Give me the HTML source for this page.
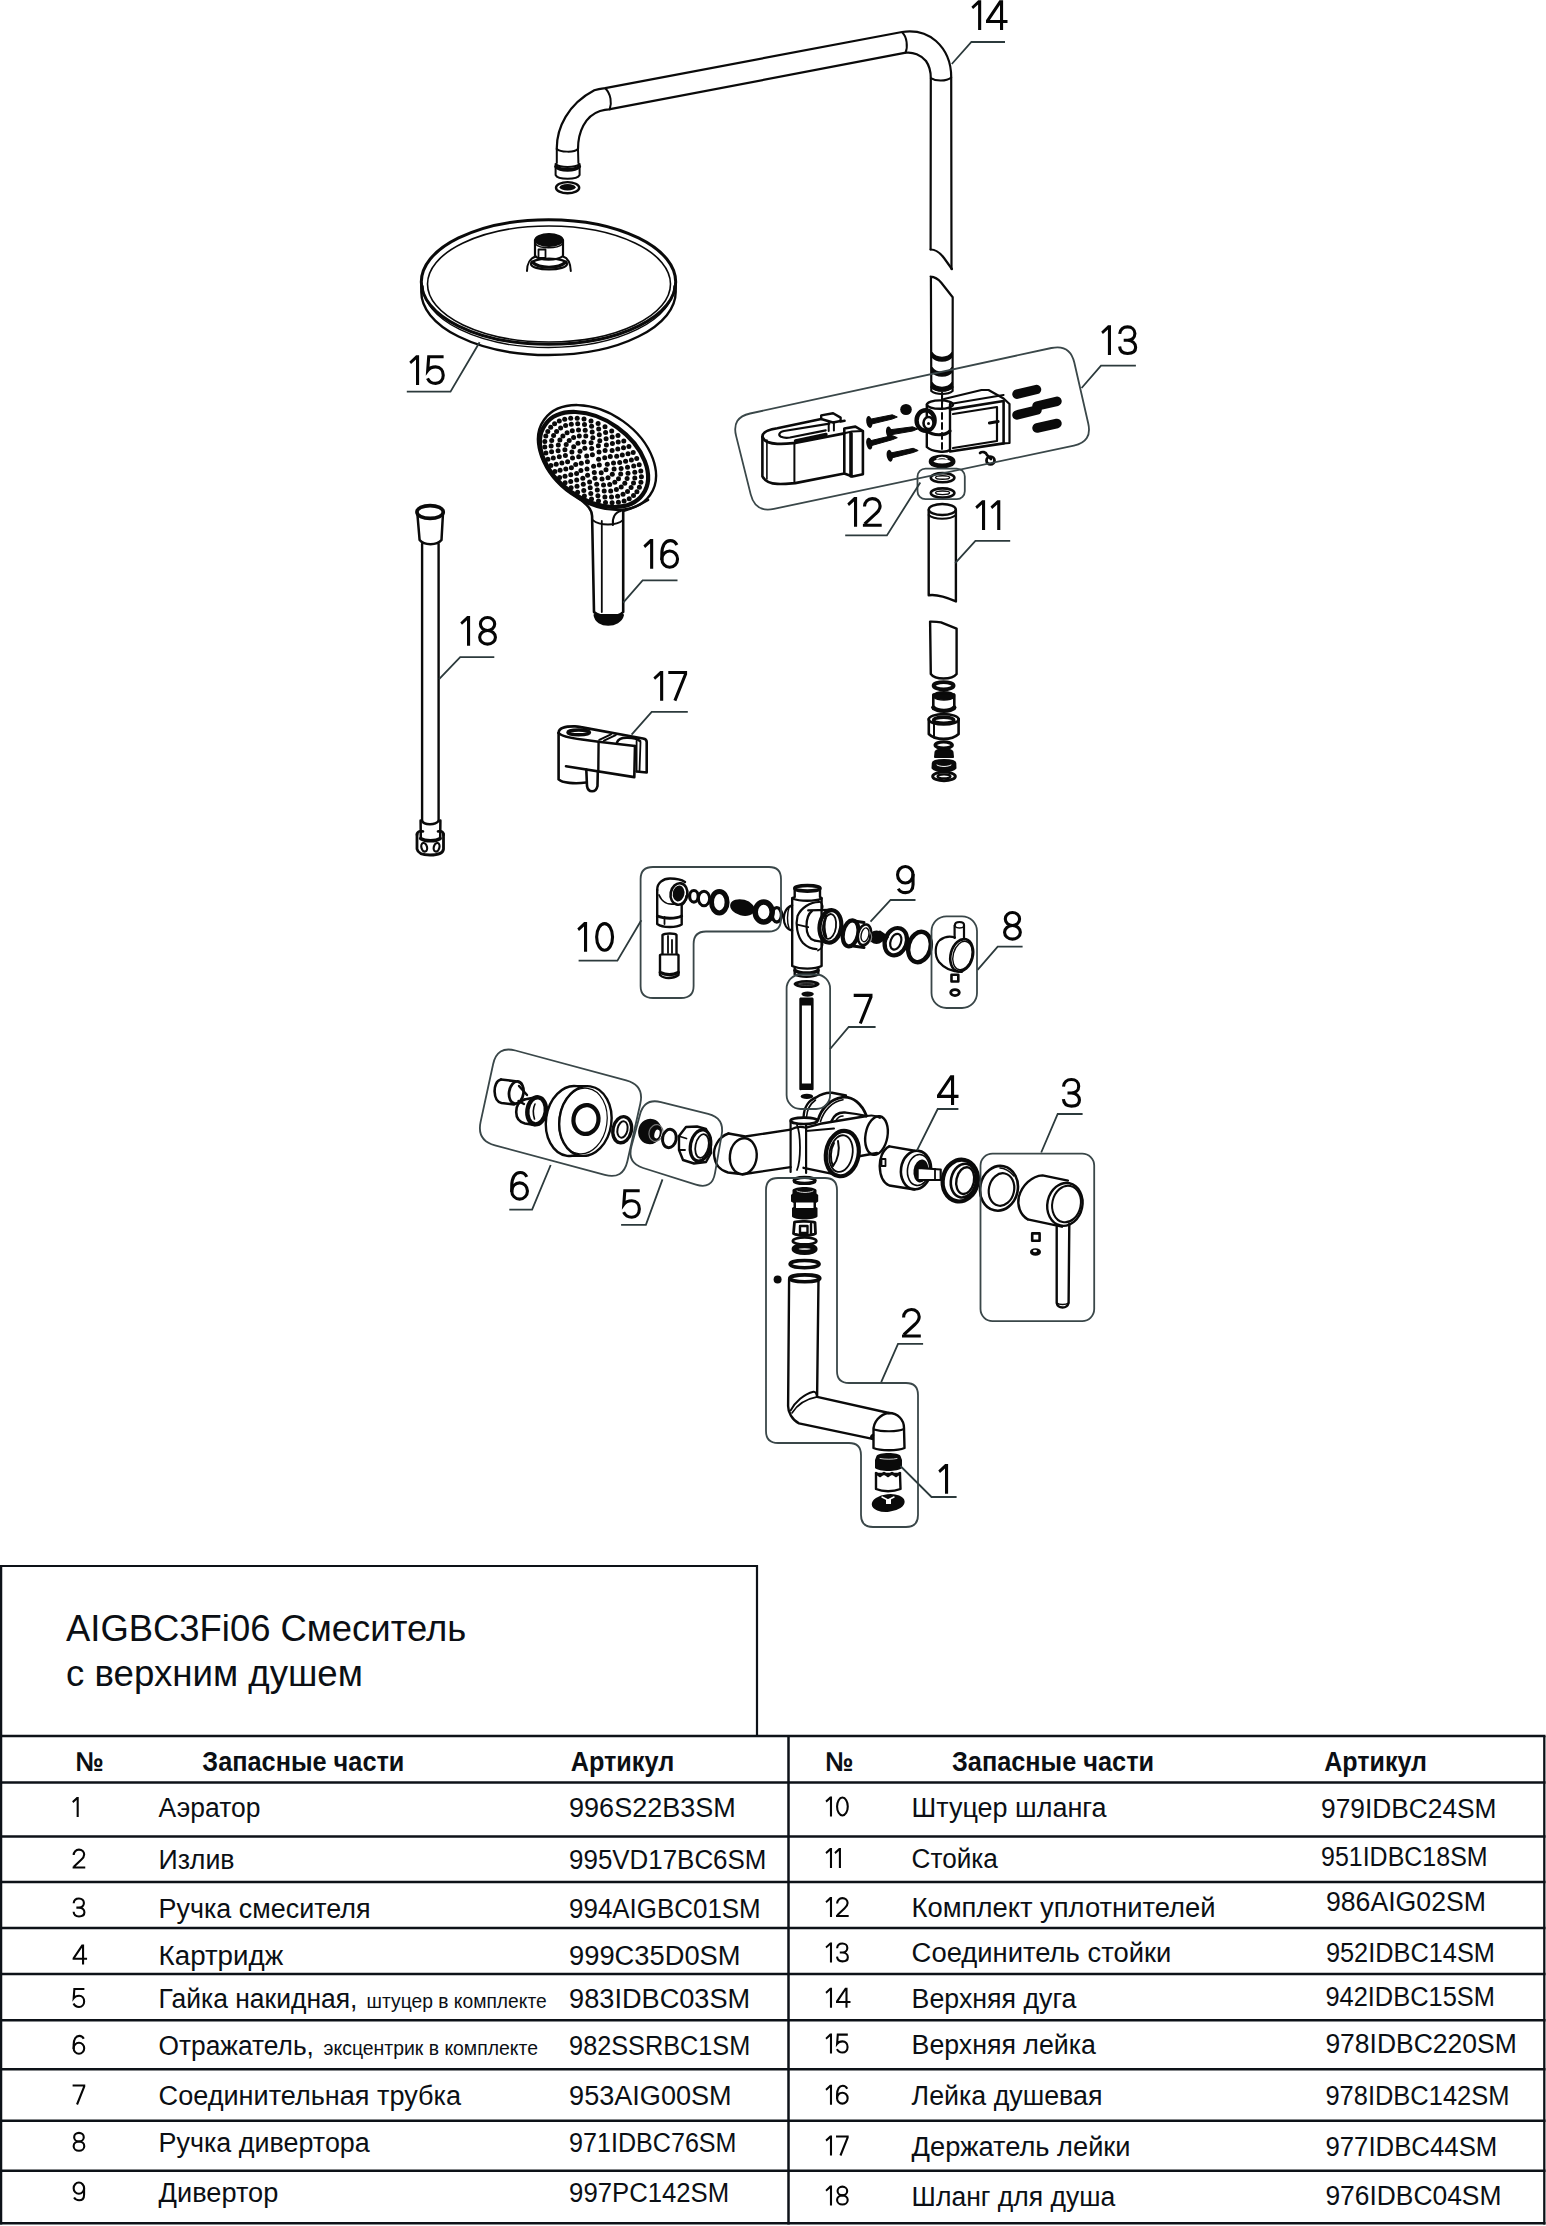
<!DOCTYPE html>
<html><head><meta charset="utf-8"><style>
html,body{margin:0;padding:0;background:#fff;}
svg{display:block;}
text{font-family:"Liberation Sans",sans-serif;}
.lbl{stroke:#fff;stroke-width:1.1px;paint-order:stroke;}
</style></head><body>
<svg width="1546" height="2226" viewBox="0 0 1546 2226">
<rect width="1546" height="2226" fill="#fff"/>
<path d="M556.8,149 C556.5,128 568,104 594.3,90.3 C598,89 602,88.5 605.2,88.1 L902,32 C912,30.5 925,31.5 936,41 C946,50 951.2,62 951.2,77 L951.5,269" fill="none" stroke="#0a0a0a" stroke-width="2.2" stroke-linejoin="round" stroke-linecap="round" />
<path d="M578,149 C578,132 585,116 600,111 C604,110 606,109.6 608.8,109.4 L905.9,52.7 C913,51.8 921,55 926,61 C929.5,66 930.8,72 930.8,78.2 L930.6,249.5" fill="none" stroke="#0a0a0a" stroke-width="2.2" stroke-linejoin="round" stroke-linecap="round" />
<path d="M605.2,88.3 C611,94 612,103 609.7,109.4" fill="none" stroke="#0a0a0a" stroke-width="2" stroke-linejoin="round" stroke-linecap="round" />
<path d="M902.3,32.6 C907,37 908,47 905.5,52.7" fill="none" stroke="#0a0a0a" stroke-width="2" stroke-linejoin="round" stroke-linecap="round" />
<path d="M930.8,78.2 C936,81.5 946,81.5 951.2,77.6" fill="none" stroke="#0a0a0a" stroke-width="2" stroke-linejoin="round" stroke-linecap="round" />
<path d="M930.6,249.5 C936,249.5 941,254 944,258 L951.9,269" fill="none" stroke="#0a0a0a" stroke-width="2.2" stroke-linejoin="round" stroke-linecap="round" />
<path d="M556.8,149 C560,152 574,153 578,149" fill="none" stroke="#0a0a0a" stroke-width="2" stroke-linejoin="round" stroke-linecap="round" />
<path d="M556.8,149 L556.8,163 M578,149 L578.4,163" fill="none" stroke="#0a0a0a" stroke-width="2" stroke-linejoin="round" stroke-linecap="round" />
<path d="M555.6,164 L555.6,175 C558,180 577,180 579.6,175 L579.6,164 C575,168 560,168 555.6,164 Z" fill="none" stroke="#0a0a0a" stroke-width="2" stroke-linejoin="round" stroke-linecap="round" />
<path d="M556,166.5 C560,171 575,171 579.3,166.5" fill="none" stroke="#0a0a0a" stroke-width="3.6" stroke-linejoin="round" stroke-linecap="round" />
<ellipse cx="567.6" cy="187.7" rx="11.6" ry="5.6" fill="none" stroke="#0a0a0a" stroke-width="2.4"/>
<ellipse cx="567.6" cy="187.3" rx="8" ry="3.2" fill="#0a0a0a" stroke="#0a0a0a" stroke-width="0"/>
<path d="M930.6,276.6 C936,277 939,280 941.3,282.7 L952.7,297.2 L952.6,391 C948,395 936,395 931.3,391 L930.9,276.6 Z" fill="none" stroke="#0a0a0a" stroke-width="2.2" stroke-linejoin="round" stroke-linecap="round" />
<path d="M931.8,352.5 C936,359.0 948,359.0 952.2,352.5 L952.2,356.5 C948,362.5 936,362.5 931.8,356.5 Z" fill="#0a0a0a" stroke="#0a0a0a" stroke-width="1.5" stroke-linejoin="round" stroke-linecap="round" />
<path d="M931.8,367.5 C936,374.0 948,374.0 952.2,367.5 L952.2,371.5 C948,377.5 936,377.5 931.8,371.5 Z" fill="#0a0a0a" stroke="#0a0a0a" stroke-width="1.5" stroke-linejoin="round" stroke-linecap="round" />
<path d="M931.8,382.5 C936,389.0 948,389.0 952.2,382.5 L952.2,386.5 C948,392.5 936,392.5 931.8,386.5 Z" fill="#0a0a0a" stroke="#0a0a0a" stroke-width="1.5" stroke-linejoin="round" stroke-linecap="round" />
<path d="M931.3,387 C936,392 948,392 952.6,387" fill="none" stroke="#0a0a0a" stroke-width="2" stroke-linejoin="round" stroke-linecap="round" />
<path d="M942.1,393 L942.1,404" fill="none" stroke="#0a0a0a" stroke-width="2" stroke-linejoin="round" stroke-linecap="round" />
<path d="M421.3,283 L421.3,292 A127.2,63 0 0 0 675.7,292 L675.7,283" fill="none" stroke="#0a0a0a" stroke-width="2.4" stroke-linejoin="round" stroke-linecap="round" />
<path d="M423,286 A125.5,61.5 0 0 0 674,286" fill="none" stroke="#0a0a0a" stroke-width="1.4" stroke-linejoin="round" stroke-linecap="round" />
<ellipse cx="548.5" cy="282" rx="127.2" ry="62.3" fill="none" stroke="#0a0a0a" stroke-width="3.0"/>
<ellipse cx="549" cy="284" rx="121.5" ry="58" fill="none" stroke="#0a0a0a" stroke-width="1.6"/>
<path d="M527,271 C527,264 530,258 535.8,256.5 M570.8,271 C570.5,264 568,258 563,256.5" fill="none" stroke="#0a0a0a" stroke-width="2" stroke-linejoin="round" stroke-linecap="round" />
<ellipse cx="549" cy="264" rx="18" ry="5.5" fill="none" stroke="#0a0a0a" stroke-width="2.2"/>
<path d="M532,262 C540,269 558,269 566,262" fill="none" stroke="#0a0a0a" stroke-width="3.2" stroke-linejoin="round" stroke-linecap="round" />
<path d="M535,240 L535,256 C540,261 557,261 563,256 L563,240" fill="none" stroke="#0a0a0a" stroke-width="2.2" stroke-linejoin="round" stroke-linecap="round" />
<ellipse cx="549" cy="240" rx="14" ry="6.2" fill="#0a0a0a" stroke="#0a0a0a" stroke-width="1.5"/>
<path d="M535.3,244 C540,249 557,249 562.7,244" fill="none" stroke="#0a0a0a" stroke-width="1.4" stroke-linejoin="round" stroke-linecap="round" />
<path d="M538.5,249.5 L545.5,249.5 L545.5,258 L538.5,258 Z" fill="none" stroke="#0a0a0a" stroke-width="1.8" stroke-linejoin="round" stroke-linecap="round" />
<path d="M762.4,437 C762,432 768,429.5 777.3,428.2 L821.2,419 M840.6,421.5 L844.5,420.8" fill="none" stroke="#0a0a0a" stroke-width="2.6" stroke-linejoin="round" stroke-linecap="round" />
<path d="M762.4,437 C764,441 770,443.5 777.3,443.8 C785,444.2 790,443.5 795.2,443 L844.3,433.3" fill="none" stroke="#0a0a0a" stroke-width="2.8" stroke-linejoin="round" stroke-linecap="round" />
<path d="M795.5,441 L826,434.5" fill="none" stroke="#0a0a0a" stroke-width="3.4" stroke-linejoin="round" stroke-linecap="round" />
<path d="M762.4,437 L762.4,476.4 C765,481 771,483.8 777.3,483.9 C785,484.2 790,483.5 795.2,483.1 L844.3,473.5 L852.5,476.4 L862.9,474.2 L862.9,431 L855.4,426.6 L844.3,428.5 L844.3,473.5" fill="none" stroke="#0a0a0a" stroke-width="2.6" stroke-linejoin="round" stroke-linecap="round" />
<path d="M766.9,440 L766.9,479" fill="none" stroke="#0a0a0a" stroke-width="1.6" stroke-linejoin="round" stroke-linecap="round" />
<path d="M794.4,443.5 L794.4,482.4" fill="none" stroke="#0a0a0a" stroke-width="2" stroke-linejoin="round" stroke-linecap="round" />
<path d="M851,433.5 L851,476" fill="none" stroke="#0a0a0a" stroke-width="3.6" stroke-linejoin="round" stroke-linecap="round" />
<path d="M844.3,433.3 L852,431.5 L862.9,431" fill="none" stroke="#0a0a0a" stroke-width="2" stroke-linejoin="round" stroke-linecap="round" />
<path d="M829.4,423.6 L784,431 C779,432 778,435 781,436.8 C784,438 787,438 790,437.5 L825.7,430.3" fill="none" stroke="#0a0a0a" stroke-width="2.2" stroke-linejoin="round" stroke-linecap="round" />
<path d="M821.2,419 L821.2,415.4 L833.1,413.2 L840.6,417.6 L840.6,421 L833,422.5 L821.2,419" fill="none" stroke="#0a0a0a" stroke-width="2.4" stroke-linejoin="round" stroke-linecap="round" />
<path d="M828.7,422.9 L828.7,431 M833.9,422 L833.9,430.5" fill="none" stroke="#0a0a0a" stroke-width="2" stroke-linejoin="round" stroke-linecap="round" />
<path d="M869.3,419.4 L892.3,414.8 L897.3,417 L892.3,419.0 L869.3,424.6 Z" fill="#0a0a0a" stroke="#0a0a0a" stroke-width="1" stroke-linejoin="round" stroke-linecap="round" />
<ellipse cx="869.3" cy="422" rx="3" ry="6" fill="#0a0a0a" stroke="#0a0a0a" stroke-width="0" transform="rotate(-10 869.3 422)"/>
<path d="M889.1,429.9 L912.7,426.8 L917.7,429 L912.7,431.0 L889.1,435.1 Z" fill="#0a0a0a" stroke="#0a0a0a" stroke-width="1" stroke-linejoin="round" stroke-linecap="round" />
<ellipse cx="889.1" cy="432.5" rx="3" ry="6" fill="#0a0a0a" stroke="#0a0a0a" stroke-width="0" transform="rotate(-10 889.1 432.5)"/>
<path d="M869.3,441.0 L892.3,435.5 L897.3,437.7 L892.3,439.7 L869.3,446.20000000000005 Z" fill="#0a0a0a" stroke="#0a0a0a" stroke-width="1" stroke-linejoin="round" stroke-linecap="round" />
<ellipse cx="869.3" cy="443.6" rx="3" ry="6" fill="#0a0a0a" stroke="#0a0a0a" stroke-width="0" transform="rotate(-10 869.3 443.6)"/>
<path d="M889.7,453.2 L913.2,448.3 L918.2,450.5 L913.2,452.5 L889.7,458.40000000000003 Z" fill="#0a0a0a" stroke="#0a0a0a" stroke-width="1" stroke-linejoin="round" stroke-linecap="round" />
<ellipse cx="889.7" cy="455.8" rx="3" ry="6" fill="#0a0a0a" stroke="#0a0a0a" stroke-width="0" transform="rotate(-10 889.7 455.8)"/>
<ellipse cx="906" cy="409.5" rx="5.8" ry="5.5" fill="#0a0a0a" stroke="#0a0a0a" stroke-width="0"/>
<path d="M926.8,404.5 L926.8,447 C932,452 946,453 950,450 L950,404.5" fill="none" stroke="#0a0a0a" stroke-width="2.4" stroke-linejoin="round" stroke-linecap="round" />
<ellipse cx="940" cy="404.6" rx="13" ry="4.2" fill="none" stroke="#0a0a0a" stroke-width="2.4"/>
<path d="M927,431 C933,436 945,436 950,431" fill="none" stroke="#0a0a0a" stroke-width="3.2" stroke-linejoin="round" stroke-linecap="round" />
<path d="M942,393 L942,449" fill="none" stroke="#0a0a0a" stroke-width="2" stroke-linejoin="round" stroke-linecap="round" stroke-dasharray="6 4"/>
<ellipse cx="925.6" cy="420.5" rx="9" ry="10.2" fill="none" stroke="#0a0a0a" stroke-width="4.4"/>
<ellipse cx="928.5" cy="423" rx="5" ry="6" fill="#fff" stroke="#0a0a0a" stroke-width="2.6"/>
<ellipse cx="928.5" cy="423.5" rx="1.5" ry="1.5" fill="#0a0a0a" stroke="#0a0a0a" stroke-width="0"/>
<path d="M950,409.6 L1003.6,401 L1003.6,443.4 L950,451.5" fill="none" stroke="#0a0a0a" stroke-width="2.6" stroke-linejoin="round" stroke-linecap="round" />
<path d="M944,399 L981.5,390 L988.5,390 L1003.6,398.5 L1009.5,404 L1009.5,443 L1003.6,443.4" fill="none" stroke="#0a0a0a" stroke-width="2.2" stroke-linejoin="round" stroke-linecap="round" />
<path d="M950,404 L1003.6,395" fill="none" stroke="#0a0a0a" stroke-width="2" stroke-linejoin="round" stroke-linecap="round" />
<path d="M953,414 L997,407 L997,441 L953,448" fill="none" stroke="#0a0a0a" stroke-width="2.2" stroke-linejoin="round" stroke-linecap="round" />
<path d="M989.5,423 L998,421.5" fill="none" stroke="#0a0a0a" stroke-width="3.2" stroke-linejoin="round" stroke-linecap="round" />
<path d="M1017,394.2 L1036.5,389.5" fill="none" stroke="#0a0a0a" stroke-width="9.5" stroke-linejoin="round" stroke-linecap="round" />
<path d="M1037,406 L1057,401.3" fill="none" stroke="#0a0a0a" stroke-width="9.5" stroke-linejoin="round" stroke-linecap="round" />
<path d="M1017,415 L1037,410" fill="none" stroke="#0a0a0a" stroke-width="9.5" stroke-linejoin="round" stroke-linecap="round" />
<path d="M1037,428 L1057,423.5" fill="none" stroke="#0a0a0a" stroke-width="9.5" stroke-linejoin="round" stroke-linecap="round" />
<ellipse cx="942.1" cy="461.4" rx="11" ry="4.6" fill="none" stroke="#0a0a0a" stroke-width="4.8"/>
<path d="M937,459 C939,457 945,457 947,459" fill="none" stroke="#fff" stroke-width="1.6" stroke-linejoin="round" stroke-linecap="round" />
<path d="M980,453 C982,451 986,452 987,455 L991,459" fill="none" stroke="#0a0a0a" stroke-width="2.6" stroke-linejoin="round" stroke-linecap="round" />
<ellipse cx="990.5" cy="460.5" rx="4" ry="3.8" fill="none" stroke="#0a0a0a" stroke-width="2.8"/>
<ellipse cx="942.6" cy="477.7" rx="11.8" ry="4.6" fill="none" stroke="#0a0a0a" stroke-width="2.6"/>
<ellipse cx="942.6" cy="477.5" rx="7" ry="1.8" fill="none" stroke="#0a0a0a" stroke-width="1.4"/>
<ellipse cx="942.6" cy="493" rx="11.8" ry="4.6" fill="none" stroke="#0a0a0a" stroke-width="2.6"/>
<ellipse cx="942.6" cy="492.8" rx="7" ry="1.8" fill="none" stroke="#0a0a0a" stroke-width="1.4"/>
<path d="M928.7,510 L928.7,595.2 C936,594 946,597 955.9,601.4 L955.9,510" fill="none" stroke="#0a0a0a" stroke-width="2.4" stroke-linejoin="round" stroke-linecap="round" />
<ellipse cx="942.3" cy="509.5" rx="13.5" ry="5.5" fill="none" stroke="#0a0a0a" stroke-width="2.4"/>
<path d="M928.7,515 C934,520 950,520 955.9,515" fill="none" stroke="#0a0a0a" stroke-width="2" stroke-linejoin="round" stroke-linecap="round" />
<path d="M930.1,621.6 C936,621.5 939,622 941,622.4 L956.6,628.6 L956.6,674 C952,680 935,680 930.8,674 Z" fill="none" stroke="#0a0a0a" stroke-width="2.4" stroke-linejoin="round" stroke-linecap="round" />
<ellipse cx="943.6" cy="685.7" rx="10" ry="3.6" fill="none" stroke="#0a0a0a" stroke-width="3.8"/>
<path d="M933.3,695 L933.3,709 M954.3,695 L954.3,709" fill="none" stroke="#0a0a0a" stroke-width="2.6" stroke-linejoin="round" stroke-linecap="round" />
<ellipse cx="943.8" cy="694.8" rx="10.5" ry="3.8" fill="#0a0a0a" stroke="#0a0a0a" stroke-width="0"/>
<path d="M933.3,697 C938,701 950,701 954.3,697 L954.3,694 L933.3,694 Z" fill="#0a0a0a" stroke="#0a0a0a" stroke-width="1.6" stroke-linejoin="round" stroke-linecap="round" />
<path d="M933.3,707.5 C938,712 950,712 954.3,707.5" fill="none" stroke="#0a0a0a" stroke-width="4.4" stroke-linejoin="round" stroke-linecap="round" />
<path d="M928.8,719 L928.8,734 C935,740.5 952,740.5 958.6,734 L958.6,719" fill="none" stroke="#0a0a0a" stroke-width="2.6" stroke-linejoin="round" stroke-linecap="round" />
<ellipse cx="943.7" cy="719.3" rx="15" ry="5.2" fill="none" stroke="#0a0a0a" stroke-width="2.6"/>
<ellipse cx="943.7" cy="720.3" rx="10.2" ry="3" fill="none" stroke="#0a0a0a" stroke-width="3.4"/>
<path d="M934,723 L934,737.5" fill="none" stroke="#0a0a0a" stroke-width="2" stroke-linejoin="round" stroke-linecap="round" />
<ellipse cx="943.7" cy="745.1" rx="8.5" ry="3.2" fill="none" stroke="#0a0a0a" stroke-width="3.4"/>
<path d="M935.5,752 C936,748.5 952,748.5 952.5,752 L953,757 L935,757 Z" fill="#0a0a0a" stroke="#0a0a0a" stroke-width="2" stroke-linejoin="round" stroke-linecap="round" />
<path d="M932.8,763 C933,759 955,759 955.3,763 L955.5,768 C952,772 936,772 932.5,768 Z" fill="#0a0a0a" stroke="#0a0a0a" stroke-width="2" stroke-linejoin="round" stroke-linecap="round" />
<path d="M937,765 C940,767 948,767 951,765" fill="none" stroke="#fff" stroke-width="1" stroke-linejoin="round" stroke-linecap="round" />
<ellipse cx="944" cy="776.4" rx="11.3" ry="4.3" fill="none" stroke="#0a0a0a" stroke-width="3"/>
<ellipse cx="944" cy="776.4" rx="6.5" ry="2" fill="none" stroke="#0a0a0a" stroke-width="2.2"/>
<ellipse cx="597" cy="457.5" rx="65" ry="44.7" fill="none" stroke="#0a0a0a" stroke-width="2.4" transform="rotate(35.5 597 457.5)"/>
<ellipse cx="594" cy="459.5" rx="60" ry="39.7" fill="none" stroke="#0a0a0a" stroke-width="4.2" transform="rotate(35.5 594 459.5)"/>
<g fill="#0a0a0a"><circle cx="599.3" cy="465.0" r="2.5"/><circle cx="593.6" cy="466.3" r="2.5"/><circle cx="587.4" cy="461.8" r="2.5"/><circle cx="586.7" cy="456.0" r="2.5"/><circle cx="592.4" cy="454.7" r="2.5"/><circle cx="598.6" cy="459.2" r="2.5"/><circle cx="606.0" cy="469.8" r="2.5"/><circle cx="601.2" cy="472.7" r="2.5"/><circle cx="594.3" cy="472.4" r="2.5"/><circle cx="587.0" cy="468.9" r="2.5"/><circle cx="581.3" cy="463.2" r="2.5"/><circle cx="578.7" cy="456.7" r="2.5"/><circle cx="580.0" cy="451.2" r="2.5"/><circle cx="584.8" cy="448.3" r="2.5"/><circle cx="591.7" cy="448.6" r="2.5"/><circle cx="599.0" cy="452.1" r="2.5"/><circle cx="604.7" cy="457.8" r="2.5"/><circle cx="607.3" cy="464.3" r="2.5"/><circle cx="612.3" cy="474.2" r="2.5"/><circle cx="608.0" cy="477.7" r="2.5"/><circle cx="602.0" cy="479.1" r="2.5"/><circle cx="594.9" cy="478.2" r="2.5"/><circle cx="587.6" cy="475.2" r="2.5"/><circle cx="580.9" cy="470.4" r="2.5"/><circle cx="575.7" cy="464.5" r="2.5"/><circle cx="572.5" cy="458.0" r="2.5"/><circle cx="571.9" cy="451.9" r="2.5"/><circle cx="573.7" cy="446.8" r="2.5"/><circle cx="578.0" cy="443.3" r="2.5"/><circle cx="584.0" cy="441.9" r="2.5"/><circle cx="591.1" cy="442.8" r="2.5"/><circle cx="598.4" cy="445.8" r="2.5"/><circle cx="605.1" cy="450.6" r="2.5"/><circle cx="610.3" cy="456.5" r="2.5"/><circle cx="613.5" cy="463.0" r="2.5"/><circle cx="614.1" cy="469.1" r="2.5"/><circle cx="618.5" cy="478.7" r="2.5"/><circle cx="614.8" cy="482.3" r="2.5"/><circle cx="609.7" cy="484.4" r="2.5"/><circle cx="603.5" cy="485.1" r="2.5"/><circle cx="596.7" cy="484.2" r="2.5"/><circle cx="589.6" cy="481.9" r="2.5"/><circle cx="582.8" cy="478.2" r="2.5"/><circle cx="576.6" cy="473.4" r="2.5"/><circle cx="571.4" cy="467.7" r="2.5"/><circle cx="567.6" cy="461.7" r="2.5"/><circle cx="565.4" cy="455.5" r="2.5"/><circle cx="564.9" cy="449.7" r="2.5"/><circle cx="566.2" cy="444.5" r="2.5"/><circle cx="569.2" cy="440.4" r="2.5"/><circle cx="573.6" cy="437.5" r="2.5"/><circle cx="579.3" cy="436.0" r="2.5"/><circle cx="585.8" cy="436.1" r="2.5"/><circle cx="592.8" cy="437.8" r="2.5"/><circle cx="599.8" cy="440.8" r="2.5"/><circle cx="606.4" cy="445.1" r="2.5"/><circle cx="612.1" cy="450.4" r="2.5"/><circle cx="616.7" cy="456.3" r="2.5"/><circle cx="619.7" cy="462.4" r="2.5"/><circle cx="621.1" cy="468.5" r="2.5"/><circle cx="620.7" cy="474.0" r="2.5"/><circle cx="624.8" cy="483.2" r="2.5"/><circle cx="621.2" cy="486.9" r="2.5"/><circle cx="616.4" cy="489.5" r="2.5"/><circle cx="610.7" cy="490.9" r="2.5"/><circle cx="604.2" cy="491.1" r="2.5"/><circle cx="597.3" cy="490.0" r="2.5"/><circle cx="590.2" cy="487.7" r="2.5"/><circle cx="583.3" cy="484.3" r="2.5"/><circle cx="576.7" cy="480.0" r="2.5"/><circle cx="570.8" cy="474.8" r="2.5"/><circle cx="565.8" cy="469.0" r="2.5"/><circle cx="561.9" cy="462.9" r="2.5"/><circle cx="559.3" cy="456.7" r="2.5"/><circle cx="558.1" cy="450.7" r="2.5"/><circle cx="558.3" cy="445.0" r="2.5"/><circle cx="559.9" cy="440.0" r="2.5"/><circle cx="562.9" cy="435.9" r="2.5"/><circle cx="567.1" cy="432.7" r="2.5"/><circle cx="572.3" cy="430.7" r="2.5"/><circle cx="578.5" cy="429.9" r="2.5"/><circle cx="585.2" cy="430.3" r="2.5"/><circle cx="592.2" cy="432.0" r="2.5"/><circle cx="599.3" cy="434.8" r="2.5"/><circle cx="606.1" cy="438.7" r="2.5"/><circle cx="612.4" cy="443.5" r="2.5"/><circle cx="617.8" cy="449.0" r="2.5"/><circle cx="622.3" cy="455.0" r="2.5"/><circle cx="625.6" cy="461.2" r="2.5"/><circle cx="627.5" cy="467.3" r="2.5"/><circle cx="628.0" cy="473.2" r="2.5"/><circle cx="627.1" cy="478.6" r="2.5"/><circle cx="631.1" cy="487.6" r="2.5"/><circle cx="627.5" cy="491.4" r="2.5"/><circle cx="623.0" cy="494.3" r="2.5"/><circle cx="617.6" cy="496.2" r="2.5"/><circle cx="611.5" cy="497.1" r="2.5"/><circle cx="604.9" cy="497.0" r="2.5"/><circle cx="597.9" cy="495.8" r="2.5"/><circle cx="590.8" cy="493.5" r="2.5"/><circle cx="583.8" cy="490.4" r="2.5"/><circle cx="577.0" cy="486.3" r="2.5"/><circle cx="570.7" cy="481.6" r="2.5"/><circle cx="565.0" cy="476.2" r="2.5"/><circle cx="560.1" cy="470.3" r="2.5"/><circle cx="556.2" cy="464.2" r="2.5"/><circle cx="553.3" cy="458.0" r="2.5"/><circle cx="551.6" cy="451.8" r="2.5"/><circle cx="551.1" cy="445.9" r="2.5"/><circle cx="551.7" cy="440.5" r="2.5"/><circle cx="553.6" cy="435.5" r="2.5"/><circle cx="556.6" cy="431.4" r="2.5"/><circle cx="560.6" cy="428.0" r="2.5"/><circle cx="565.6" cy="425.6" r="2.5"/><circle cx="571.3" cy="424.2" r="2.5"/><circle cx="577.7" cy="423.8" r="2.5"/><circle cx="584.5" cy="424.5" r="2.5"/><circle cx="591.6" cy="426.2" r="2.5"/><circle cx="598.7" cy="428.9" r="2.5"/><circle cx="605.6" cy="432.5" r="2.5"/><circle cx="612.2" cy="437.0" r="2.5"/><circle cx="618.2" cy="442.1" r="2.5"/><circle cx="623.5" cy="447.7" r="2.5"/><circle cx="628.0" cy="453.7" r="2.5"/><circle cx="631.4" cy="459.9" r="2.5"/><circle cx="633.7" cy="466.1" r="2.5"/><circle cx="634.8" cy="472.2" r="2.5"/><circle cx="634.8" cy="477.9" r="2.5"/><circle cx="633.5" cy="483.1" r="2.5"/><circle cx="636.9" cy="491.8" r="2.5"/><circle cx="633.5" cy="495.6" r="2.5"/><circle cx="629.2" cy="498.7" r="2.5"/><circle cx="624.1" cy="500.9" r="2.5"/><circle cx="618.4" cy="502.3" r="2.5"/><circle cx="612.1" cy="502.8" r="2.5"/><circle cx="605.5" cy="502.4" r="2.5"/><circle cx="598.5" cy="501.1" r="2.5"/><circle cx="591.5" cy="499.0" r="2.5"/><circle cx="584.4" cy="496.0" r="2.5"/><circle cx="577.6" cy="492.2" r="2.5"/><circle cx="571.1" cy="487.8" r="2.5"/><circle cx="565.1" cy="482.8" r="2.5"/><circle cx="559.6" cy="477.4" r="2.5"/><circle cx="554.9" cy="471.5" r="2.5"/><circle cx="550.9" cy="465.5" r="2.5"/><circle cx="547.9" cy="459.3" r="2.5"/><circle cx="545.9" cy="453.1" r="2.5"/><circle cx="544.8" cy="447.1" r="2.5"/><circle cx="544.8" cy="441.4" r="2.5"/><circle cx="545.8" cy="436.1" r="2.5"/><circle cx="547.8" cy="431.4" r="2.5"/><circle cx="550.7" cy="427.2" r="2.5"/><circle cx="554.6" cy="423.8" r="2.5"/><circle cx="559.3" cy="421.1" r="2.5"/><circle cx="564.7" cy="419.3" r="2.5"/><circle cx="570.7" cy="418.3" r="2.5"/><circle cx="577.2" cy="418.3" r="2.5"/><circle cx="584.0" cy="419.1" r="2.5"/><circle cx="591.0" cy="420.9" r="2.5"/><circle cx="598.1" cy="423.4" r="2.5"/><circle cx="605.0" cy="426.8" r="2.5"/><circle cx="611.7" cy="430.9" r="2.5"/><circle cx="618.0" cy="435.6" r="2.5"/><circle cx="623.8" cy="440.9" r="2.5"/><circle cx="628.9" cy="446.5" r="2.5"/><circle cx="633.2" cy="452.5" r="2.5"/><circle cx="636.7" cy="458.6" r="2.5"/><circle cx="639.2" cy="464.8" r="2.5"/><circle cx="640.8" cy="470.9" r="2.5"/><circle cx="641.4" cy="476.8" r="2.5"/><circle cx="640.9" cy="482.3" r="2.5"/><circle cx="639.4" cy="487.3" r="2.5"/></g>
<path d="M577,497 C588,505 592,510 592.1,516 L594,612 C600,618 618,618 623.2,612 L623.2,511 C630,509 640,505 648,500" fill="none" stroke="#0a0a0a" stroke-width="2.6" stroke-linejoin="round" stroke-linecap="round" />
<path d="M601.8,521 L601.8,612" fill="none" stroke="#0a0a0a" stroke-width="1.8" stroke-linejoin="round" stroke-linecap="round" />
<path d="M592.5,520 C600,526 616,526 623.2,520" fill="none" stroke="#0a0a0a" stroke-width="1.8" stroke-linejoin="round" stroke-linecap="round" />
<path d="M613,525 C612,518 615,512 621,511" fill="none" stroke="#0a0a0a" stroke-width="2" stroke-linejoin="round" stroke-linecap="round" />
<path d="M594.5,615 C596,628 620,628 623,615 Z" fill="#0a0a0a" stroke="#0a0a0a" stroke-width="2" stroke-linejoin="round" stroke-linecap="round" />
<ellipse cx="430.1" cy="512" rx="13.2" ry="6.4" fill="none" stroke="#0a0a0a" stroke-width="3.6"/>
<path d="M417.3,513 L419.6,540 C424,545.5 437,545.5 441.5,540 L443,513" fill="none" stroke="#0a0a0a" stroke-width="2.5" stroke-linejoin="round" stroke-linecap="round" />
<path d="M422.1,544 L422.1,820.5 M438.6,544 L438.6,820.5" fill="none" stroke="#0a0a0a" stroke-width="2.4" stroke-linejoin="round" stroke-linecap="round" />
<path d="M420.6,820.5 L420.8,837.5 M440.4,820.5 L440.2,837.5" fill="none" stroke="#0a0a0a" stroke-width="2.5" stroke-linejoin="round" stroke-linecap="round" />
<path d="M422.1,821 C424,825 435,825.5 438.6,821" fill="none" stroke="#0a0a0a" stroke-width="2.6" stroke-linejoin="round" stroke-linecap="round" />
<path d="M417,835 C417,831 421,830.5 423,831.5 M443.5,835 C443.5,831 440,830.5 438,831.5" fill="none" stroke="#0a0a0a" stroke-width="2.6" stroke-linejoin="round" stroke-linecap="round" />
<path d="M417,834 L417,849 C418,854 425,855 430,855 C436,855 443,854 443.5,849 L443.5,834" fill="none" stroke="#0a0a0a" stroke-width="2.8" stroke-linejoin="round" stroke-linecap="round" />
<path d="M420.6,838.5 C425,841.5 436,841.5 440.2,838.5" fill="none" stroke="#0a0a0a" stroke-width="3.4" stroke-linejoin="round" stroke-linecap="round" />
<ellipse cx="424.2" cy="847.3" rx="2.8" ry="4.4" fill="none" stroke="#0a0a0a" stroke-width="2.2" transform="rotate(-15 424.2 847.3)"/>
<ellipse cx="436.6" cy="847.3" rx="2.8" ry="4.4" fill="none" stroke="#0a0a0a" stroke-width="2.2" transform="rotate(15 436.6 847.3)"/>
<path d="M558.6,733 C558.5,728 565,726.2 575,726.4 C578,726.5 580,727 582.3,727.4 L643,738.5 C646,739 646.7,740 646.7,742 L646.7,772.5 L636.6,771.5" fill="none" stroke="#0a0a0a" stroke-width="2.6" stroke-linejoin="round" stroke-linecap="round" />
<path d="M558.6,733 L558.6,779.4 C562,783 575,784 586.1,782.5" fill="none" stroke="#0a0a0a" stroke-width="2.6" stroke-linejoin="round" stroke-linecap="round" />
<path d="M558.6,733 C561,736 570,738 582,739.5 L598.6,741.8 L635,746" fill="none" stroke="#0a0a0a" stroke-width="2.6" stroke-linejoin="round" stroke-linecap="round" />
<ellipse cx="578.7" cy="732.4" rx="10.8" ry="2.4" fill="none" stroke="#0a0a0a" stroke-width="3.4"/>
<path d="M598.6,741.8 L598.3,770.9" fill="none" stroke="#0a0a0a" stroke-width="2.4" stroke-linejoin="round" stroke-linecap="round" />
<path d="M635,746 L634.3,777.1 L566,766.2" fill="none" stroke="#0a0a0a" stroke-width="2.6" stroke-linejoin="round" stroke-linecap="round" />
<path d="M636.6,741 L636.6,771.5 M640.5,742 L639.5,771" fill="none" stroke="#0a0a0a" stroke-width="1.8" stroke-linejoin="round" stroke-linecap="round" />
<path d="M599.3,739.8 L611,734.4 M604,740.6 L615.7,735.2" fill="none" stroke="#0a0a0a" stroke-width="2" stroke-linejoin="round" stroke-linecap="round" />
<path d="M617,742.5 C618,739 622,737.5 628,737.8 C634,738 638,739.5 640,741" fill="none" stroke="#0a0a0a" stroke-width="2.6" stroke-linejoin="round" stroke-linecap="round" />
<path d="M586.3,769.5 L587,786 C588,793 596,793 597.5,786 L597.8,771.5" fill="none" stroke="#0a0a0a" stroke-width="2.6" stroke-linejoin="round" stroke-linecap="round" />
<path d="M657.2,890 L657.2,924 C663,928 676,928 681.7,924.5 L681.7,905 C684,903 686,900 686.5,896" fill="none" stroke="#0a0a0a" stroke-width="2.4" stroke-linejoin="round" stroke-linecap="round" />
<path d="M657.2,890 C657,883 663,878.5 670,878.5 C676,878.5 682,880 685,882" fill="none" stroke="#0a0a0a" stroke-width="2.4" stroke-linejoin="round" stroke-linecap="round" />
<ellipse cx="679" cy="894" rx="8.4" ry="10.8" fill="none" stroke="#0a0a0a" stroke-width="2.6" transform="rotate(10 679 894)"/>
<ellipse cx="678.6" cy="893.5" rx="5.8" ry="8" fill="#0a0a0a" stroke="#0a0a0a" stroke-width="0" transform="rotate(10 678.6 893.5)"/>
<path d="M659,895 C662,902 668,905 674,904" fill="none" stroke="#0a0a0a" stroke-width="1.8" stroke-linejoin="round" stroke-linecap="round" />
<path d="M657.4,916 C664,919 676,919 681.6,916" fill="none" stroke="#0a0a0a" stroke-width="3" stroke-linejoin="round" stroke-linecap="round" />
<path d="M664.5,917 L664.5,924" fill="none" stroke="#0a0a0a" stroke-width="1.8" stroke-linejoin="round" stroke-linecap="round" />
<path d="M662.5,935 C665,933 675,933 676.5,935 L676.5,954 L678.5,955 L678.5,975 C673,979 664,979 660,975 L660,955 L662.5,954 Z" fill="none" stroke="#0a0a0a" stroke-width="2.4" stroke-linejoin="round" stroke-linecap="round" />
<path d="M662.5,954.5 L676.5,954.5" fill="none" stroke="#0a0a0a" stroke-width="2" stroke-linejoin="round" stroke-linecap="round" />
<path d="M660.2,972.5 C666,975 673,975 678.3,972.5" fill="none" stroke="#0a0a0a" stroke-width="3.2" stroke-linejoin="round" stroke-linecap="round" />
<path d="M668,936 L668,953 M672,940 L672,953" fill="none" stroke="#0a0a0a" stroke-width="1.8" stroke-linejoin="round" stroke-linecap="round" />
<ellipse cx="693.9" cy="896.3" rx="4.3" ry="5.8" fill="none" stroke="#0a0a0a" stroke-width="3.2"/>
<ellipse cx="704" cy="898.5" rx="5.6" ry="7.3" fill="none" stroke="#0a0a0a" stroke-width="3"/>
<ellipse cx="719.3" cy="902.2" rx="7.8" ry="10.8" fill="none" stroke="#0a0a0a" stroke-width="5"/>
<ellipse cx="742.4" cy="907.6" rx="12.5" ry="8" fill="#0a0a0a" stroke="#0a0a0a" stroke-width="0" transform="rotate(15 742.4 907.6)"/>
<ellipse cx="763.7" cy="912" rx="8.5" ry="10" fill="none" stroke="#0a0a0a" stroke-width="5.5"/>
<ellipse cx="776.8" cy="914.8" rx="4.7" ry="7.2" fill="none" stroke="#0a0a0a" stroke-width="3.4"/>
<path d="M794.7,889 L794.7,897 L792.2,898 L792.2,966 C800,969.5 815,969.5 821.6,966 L821.6,898 L820,897 L820,889" fill="none" stroke="#0a0a0a" stroke-width="2.4" stroke-linejoin="round" stroke-linecap="round" />
<ellipse cx="807.4" cy="888.3" rx="12.6" ry="2.8" fill="none" stroke="#0a0a0a" stroke-width="3.6"/>
<path d="M792.3,898.5 C800,901.5 815,901.5 821.5,898.5" fill="none" stroke="#0a0a0a" stroke-width="2.4" stroke-linejoin="round" stroke-linecap="round" />
<path d="M794.7,968 L794.7,974.5 C800,977.5 813,977.5 818.3,974.5 L818.3,968" fill="none" stroke="#0a0a0a" stroke-width="2.4" stroke-linejoin="round" stroke-linecap="round" />
<path d="M795,970.5 C800,974 813,974 818,970.5" fill="none" stroke="#0a0a0a" stroke-width="3.6" stroke-linejoin="round" stroke-linecap="round" />
<path d="M792.2,905.4 C786.5,907 783.8,913 783.8,918 C783.8,924 786.5,929.5 792.2,930.6" fill="none" stroke="#0a0a0a" stroke-width="2.2" stroke-linejoin="round" stroke-linecap="round" />
<path d="M789,908 C787,913 787,923 789,928" fill="none" stroke="#0a0a0a" stroke-width="1.4" stroke-linejoin="round" stroke-linecap="round" />
<path d="M819,902 C810,902 801,908 797.5,916 C795.5,924 797,936 803,943 C807,947 812,949 816.6,949.1" fill="none" stroke="#0a0a0a" stroke-width="2.2" stroke-linejoin="round" stroke-linecap="round" />
<path d="M797.2,924.7 L808.2,927.2" fill="none" stroke="#0a0a0a" stroke-width="1.8" stroke-linejoin="round" stroke-linecap="round" />
<path d="M818,900.5 C821,902 823,905 822.5,908 M818,950.5 C821,949 823,946 822.5,943" fill="none" stroke="#0a0a0a" stroke-width="1.8" stroke-linejoin="round" stroke-linecap="round" />
<path d="M808.2,910.4 L829,909.8 M815,940.7 L830,943" fill="none" stroke="#0a0a0a" stroke-width="2.2" stroke-linejoin="round" stroke-linecap="round" />
<path d="M812,911 C808,914 806.5,920 806.5,926 C806.5,933 809,939 814.5,940.5" fill="none" stroke="#0a0a0a" stroke-width="2.2" stroke-linejoin="round" stroke-linecap="round" />
<ellipse cx="830.4" cy="926.4" rx="10.8" ry="16.3" fill="#fff" stroke="#0a0a0a" stroke-width="4.2" transform="rotate(8 830.4 926.4)"/>
<ellipse cx="829.5" cy="926.4" rx="6.5" ry="12.5" fill="none" stroke="#0a0a0a" stroke-width="1.8" transform="rotate(8 829.5 926.4)"/>
<path d="M826,916 C824,922 824,931 826,937" fill="none" stroke="#0a0a0a" stroke-width="2.6" stroke-linejoin="round" stroke-linecap="round" />
<ellipse cx="850.6" cy="933.4" rx="7.6" ry="13.2" fill="none" stroke="#0a0a0a" stroke-width="4.2" transform="rotate(12 850.6 933.4)"/>
<path d="M851,920.5 L864,922.5 M853,946 L864,947.5" fill="none" stroke="#0a0a0a" stroke-width="3" stroke-linejoin="round" stroke-linecap="round" />
<ellipse cx="864.5" cy="934.8" rx="6.5" ry="10.5" fill="#fff" stroke="#0a0a0a" stroke-width="2.6" transform="rotate(12 864.5 934.8)"/>
<ellipse cx="865" cy="934.8" rx="3.8" ry="7" fill="none" stroke="#0a0a0a" stroke-width="1.4" transform="rotate(12 865 934.8)"/>
<ellipse cx="876.5" cy="937.3" rx="7.5" ry="6.7" fill="#0a0a0a" stroke="#0a0a0a" stroke-width="0"/>
<path d="M870,932 C872,935 872,939 870,942" fill="none" stroke="#888" stroke-width="1.2" stroke-linejoin="round" stroke-linecap="round" />
<path d="M880,931.5 L888,937 L884,943 Z" fill="#0a0a0a" stroke="#0a0a0a" stroke-width="2" stroke-linejoin="round" stroke-linecap="round" />
<ellipse cx="895.8" cy="941.7" rx="10.8" ry="14" fill="none" stroke="#0a0a0a" stroke-width="4.2" transform="rotate(20 895.8 941.7)"/>
<ellipse cx="895.8" cy="941.7" rx="5.2" ry="8.2" fill="none" stroke="#0a0a0a" stroke-width="2.2" transform="rotate(20 895.8 941.7)"/>
<ellipse cx="919.5" cy="947" rx="11" ry="15.4" fill="none" stroke="#0a0a0a" stroke-width="4.4" transform="rotate(15 919.5 947)"/>
<path d="M955,925 C955,921 964,921 964,925 L964,940" fill="none" stroke="#0a0a0a" stroke-width="2.2" stroke-linejoin="round" stroke-linecap="round" />
<path d="M954.6,925.5 L954.6,938" fill="none" stroke="#0a0a0a" stroke-width="2.2" stroke-linejoin="round" stroke-linecap="round" />
<path d="M955,926.5 C957,928.5 962,928.5 964,926.5" fill="none" stroke="#0a0a0a" stroke-width="1.6" stroke-linejoin="round" stroke-linecap="round" />
<path d="M962,971.8 C952,972 944,968 939,962 C934,955 935,944 940,940 C944,937 950,936 955,937.5" fill="none" stroke="#0a0a0a" stroke-width="2.2" stroke-linejoin="round" stroke-linecap="round" />
<ellipse cx="961.7" cy="955.3" rx="11" ry="16.5" fill="#fff" stroke="#0a0a0a" stroke-width="2.6" transform="rotate(15 961.7 955.3)"/>
<ellipse cx="962.5" cy="955.5" rx="9.3" ry="14.5" fill="none" stroke="#0a0a0a" stroke-width="1.4" transform="rotate(15 962.5 955.5)"/>
<path d="M951.5,974.7 h6.8 v6.8 h-6.8 Z" fill="none" stroke="#0a0a0a" stroke-width="2.6" stroke-linejoin="round" stroke-linecap="round" />
<ellipse cx="955" cy="992.6" rx="4.3" ry="3" fill="none" stroke="#0a0a0a" stroke-width="2.8"/>
<ellipse cx="806.6" cy="984.1" rx="13" ry="4" fill="#0a0a0a" stroke="#0a0a0a" stroke-width="0"/>
<ellipse cx="806.6" cy="984.1" rx="8" ry="1.2" fill="none" stroke="#666" stroke-width="0.8"/>
<ellipse cx="807.6" cy="994.1" rx="6.2" ry="2.6" fill="#0a0a0a" stroke="#0a0a0a" stroke-width="0"/>
<path d="M800.6,999 L800.6,1089 M812.3,999 L812.3,1089" fill="none" stroke="#0a0a0a" stroke-width="2.6" stroke-linejoin="round" stroke-linecap="round" />
<path d="M800.3,997.5 h12.3 v8 h-12.3 Z" fill="#0a0a0a" stroke="#0a0a0a" stroke-width="0" stroke-linejoin="round" stroke-linecap="round" />
<path d="M800.3,1083.5 h12.3 v6.5 h-12.3 Z" fill="#0a0a0a" stroke="#0a0a0a" stroke-width="0" stroke-linejoin="round" stroke-linecap="round" />
<ellipse cx="806.9" cy="1096.4" rx="6.2" ry="2.6" fill="#0a0a0a" stroke="#0a0a0a" stroke-width="0"/>
<path d="M501,1079.5 C496,1080.5 494.5,1087 494.6,1091.5 C494.8,1097 497,1102 501.5,1103 L514,1104.5" fill="none" stroke="#0a0a0a" stroke-width="2.6" stroke-linejoin="round" stroke-linecap="round" />
<path d="M501,1079.5 L515.5,1081.2" fill="none" stroke="#0a0a0a" stroke-width="2.6" stroke-linejoin="round" stroke-linecap="round" />
<ellipse cx="516.3" cy="1092.6" rx="7.2" ry="11.2" fill="#fff" stroke="#0a0a0a" stroke-width="2.8" transform="rotate(8 516.3 1092.6)"/>
<path d="M519,1086 L527,1095 M518.5,1101 L524,1104" fill="none" stroke="#0a0a0a" stroke-width="2.4" stroke-linejoin="round" stroke-linecap="round" />
<path d="M524.5,1099.5 C518.5,1101.5 516.2,1107 516.2,1112 C516.2,1118 519,1122 525,1123.5 L535,1125" fill="none" stroke="#0a0a0a" stroke-width="2.6" stroke-linejoin="round" stroke-linecap="round" />
<path d="M524.5,1099.5 L537,1097" fill="none" stroke="#0a0a0a" stroke-width="2.4" stroke-linejoin="round" stroke-linecap="round" />
<ellipse cx="536.6" cy="1110.8" rx="9.2" ry="13.6" fill="#fff" stroke="#0a0a0a" stroke-width="4.4" transform="rotate(8 536.6 1110.8)"/>
<path d="M535,1104 C533,1108 533,1114 534.5,1119" fill="none" stroke="#0a0a0a" stroke-width="1.6" stroke-linejoin="round" stroke-linecap="round" />
<ellipse cx="572" cy="1121" rx="26" ry="35.2" fill="none" stroke="#0a0a0a" stroke-width="2.4" transform="rotate(8 572 1121)"/>
<ellipse cx="585.4" cy="1121" rx="26" ry="35" fill="#fff" stroke="#0a0a0a" stroke-width="2.4" transform="rotate(8 585.4 1121)"/>
<ellipse cx="583" cy="1121" rx="24" ry="33" fill="none" stroke="#0a0a0a" stroke-width="1.2" transform="rotate(8 583 1121)"/>
<path d="M572,1086 L586,1086 M572,1156 L586,1156" fill="none" stroke="#0a0a0a" stroke-width="2.2" stroke-linejoin="round" stroke-linecap="round" />
<ellipse cx="586" cy="1119.5" rx="12.5" ry="14.5" fill="none" stroke="#0a0a0a" stroke-width="4.2" transform="rotate(8 586 1119.5)"/>
<ellipse cx="622.2" cy="1129.7" rx="9.2" ry="13.2" fill="none" stroke="#0a0a0a" stroke-width="3.4" transform="rotate(12 622.2 1129.7)"/>
<ellipse cx="622.5" cy="1129.5" rx="5" ry="8.3" fill="none" stroke="#0a0a0a" stroke-width="2" transform="rotate(12 622.5 1129.5)"/>
<ellipse cx="650" cy="1131.5" rx="11.8" ry="12.8" fill="#0a0a0a" stroke="#0a0a0a" stroke-width="0" transform="rotate(15 650 1131.5)"/>
<ellipse cx="656" cy="1133" rx="7" ry="8.5" fill="none" stroke="#777" stroke-width="1.2" transform="rotate(15 656 1133)"/>
<ellipse cx="657" cy="1134" rx="2.5" ry="4.5" fill="#fff" stroke="#0a0a0a" stroke-width="0" transform="rotate(15 657 1134)"/>
<ellipse cx="669.4" cy="1138.5" rx="6.8" ry="9.2" fill="none" stroke="#0a0a0a" stroke-width="3" transform="rotate(10 669.4 1138.5)"/>
<path d="M686,1127 L697,1126.5 L706,1129 L710.5,1138 L711,1153 L706,1162 L694,1163.5 L683,1160 L679,1150 L679,1136 Z" fill="none" stroke="#0a0a0a" stroke-width="2.4" stroke-linejoin="round" stroke-linecap="round" />
<path d="M680,1136.5 L686.5,1138.5 M679.5,1150 L685,1150" fill="none" stroke="#0a0a0a" stroke-width="1.8" stroke-linejoin="round" stroke-linecap="round" />
<ellipse cx="700.5" cy="1145.4" rx="10" ry="15.8" fill="#fff" stroke="#0a0a0a" stroke-width="3.2" transform="rotate(12 700.5 1145.4)"/>
<ellipse cx="702" cy="1146" rx="6.5" ry="12" fill="none" stroke="#0a0a0a" stroke-width="1.8" transform="rotate(12 702 1146)"/>
<path d="M803.6,1117 C804,1107 809,1100 816,1097.5 C822,1093.5 828,1092.5 832,1092.8 L846,1095.5" fill="none" stroke="#0a0a0a" stroke-width="2.4" stroke-linejoin="round" stroke-linecap="round" />
<path d="M806.5,1117 C807,1110 810,1104 815.5,1100" fill="none" stroke="#0a0a0a" stroke-width="1.6" stroke-linejoin="round" stroke-linecap="round" />
<path d="M818,1120 C821,1109 830,1099 842,1097.3 C853,1096 862,1104 866.5,1116" fill="none" stroke="#0a0a0a" stroke-width="2.8" stroke-linejoin="round" stroke-linecap="round" />
<path d="M820.5,1121.5 C823.5,1111 832,1101.5 843,1099.8" fill="none" stroke="#0a0a0a" stroke-width="1.6" stroke-linejoin="round" stroke-linecap="round" />
<path d="M831.5,1121 C834,1115 838,1112 845,1112.5 C850,1113 856,1113.5 866,1116" fill="none" stroke="#0a0a0a" stroke-width="2.4" stroke-linejoin="round" stroke-linecap="round" />
<path d="M836,1120.5 C838,1117 840,1116 843,1116" fill="none" stroke="#0a0a0a" stroke-width="1.6" stroke-linejoin="round" stroke-linecap="round" />
<path d="M728.5,1133.5 C718,1137 713,1148 714.2,1156 C715,1164 719,1170 728,1172.5 L742.7,1174.3" fill="none" stroke="#0a0a0a" stroke-width="2.4" stroke-linejoin="round" stroke-linecap="round" />
<ellipse cx="743.3" cy="1156.2" rx="13.4" ry="18" fill="#fff" stroke="#0a0a0a" stroke-width="2.4" transform="rotate(6 743.3 1156.2)"/>
<path d="M728.5,1133.5 L745.3,1136.5 L790.6,1129.6" fill="none" stroke="#0a0a0a" stroke-width="2.4" stroke-linejoin="round" stroke-linecap="round" />
<path d="M742.7,1174.3 L790.6,1167.1" fill="none" stroke="#0a0a0a" stroke-width="2.4" stroke-linejoin="round" stroke-linecap="round" />
<path d="M790.6,1122 L790.6,1172 M806.1,1125 L806.1,1173" fill="none" stroke="#0a0a0a" stroke-width="2.2" stroke-linejoin="round" stroke-linecap="round" />
<ellipse cx="804" cy="1120.8" rx="13.5" ry="3.2" fill="none" stroke="#0a0a0a" stroke-width="2.6"/>
<path d="M797,1125 C801,1135 801,1160 797,1170" fill="none" stroke="#0a0a0a" stroke-width="1.8" stroke-linejoin="round" stroke-linecap="round" />
<path d="M790.6,1129.6 C795,1127 800,1126 806.1,1127.7" fill="none" stroke="#0a0a0a" stroke-width="2" stroke-linejoin="round" stroke-linecap="round" />
<path d="M806.1,1127.7 L820.3,1123.8 L866.9,1116" fill="none" stroke="#0a0a0a" stroke-width="2.4" stroke-linejoin="round" stroke-linecap="round" />
<path d="M803.5,1167.8 L841,1175.6" fill="none" stroke="#0a0a0a" stroke-width="2.4" stroke-linejoin="round" stroke-linecap="round" />
<path d="M806,1131 L834,1128.5" fill="none" stroke="#0a0a0a" stroke-width="2" stroke-linejoin="round" stroke-linecap="round" />
<ellipse cx="876.5" cy="1135.5" rx="11" ry="19.5" fill="none" stroke="#0a0a0a" stroke-width="2.4" transform="rotate(10 876.5 1135.5)"/>
<path d="M866.9,1116 C872,1115 877,1116 880,1118" fill="none" stroke="#0a0a0a" stroke-width="2" stroke-linejoin="round" stroke-linecap="round" />
<path d="M859,1156.2 L877,1153" fill="none" stroke="#0a0a0a" stroke-width="2.4" stroke-linejoin="round" stroke-linecap="round" />
<ellipse cx="842.3" cy="1153.6" rx="16.3" ry="22.8" fill="#fff" stroke="#0a0a0a" stroke-width="4.2" transform="rotate(10 842.3 1153.6)"/>
<ellipse cx="841" cy="1153.6" rx="11.5" ry="18.5" fill="none" stroke="#0a0a0a" stroke-width="1.8" transform="rotate(10 841 1153.6)"/>
<path d="M834,1143 C830,1150 830,1160 833,1166 C838,1160 840,1150 838,1141" fill="none" stroke="#0a0a0a" stroke-width="2" stroke-linejoin="round" stroke-linecap="round" />
<path d="M889.3,1146.4 C882,1150 879.5,1160 879.7,1166 C880,1175 883,1183 889.3,1185.5 L914.6,1189.5" fill="none" stroke="#0a0a0a" stroke-width="2.4" stroke-linejoin="round" stroke-linecap="round" />
<path d="M889.3,1146.4 L914.6,1150.8" fill="none" stroke="#0a0a0a" stroke-width="2.4" stroke-linejoin="round" stroke-linecap="round" />
<path d="M881.5,1159 h4 v7 h-4 Z" fill="none" stroke="#0a0a0a" stroke-width="1.8" stroke-linejoin="round" stroke-linecap="round" />
<ellipse cx="916" cy="1170" rx="15" ry="19.3" fill="#fff" stroke="#0a0a0a" stroke-width="2.6" transform="rotate(8 916 1170)"/>
<ellipse cx="918.5" cy="1170" rx="11" ry="15.5" fill="none" stroke="#0a0a0a" stroke-width="1.6" transform="rotate(8 918.5 1170)"/>
<ellipse cx="921" cy="1171" rx="7.5" ry="11.5" fill="#0a0a0a" stroke="#0a0a0a" stroke-width="0" transform="rotate(8 921 1171)"/>
<path d="M917.6,1168 L940.7,1169.5 L940.7,1180 L917.6,1180 Z" fill="#fff" stroke="#0a0a0a" stroke-width="2.2" stroke-linejoin="round" stroke-linecap="round" />
<path d="M935,1169 L935,1180" fill="none" stroke="#0a0a0a" stroke-width="1.8" stroke-linejoin="round" stroke-linecap="round" />
<ellipse cx="960.3" cy="1180.6" rx="17.5" ry="21" fill="none" stroke="#0a0a0a" stroke-width="4.2" transform="rotate(12 960.3 1180.6)"/>
<ellipse cx="963.5" cy="1180.6" rx="12.5" ry="17" fill="none" stroke="#0a0a0a" stroke-width="2.6" transform="rotate(12 963.5 1180.6)"/>
<ellipse cx="965.2" cy="1180.6" rx="8.8" ry="13.5" fill="none" stroke="#0a0a0a" stroke-width="2.4" transform="rotate(12 965.2 1180.6)"/>
<ellipse cx="999" cy="1188.3" rx="18.8" ry="22.5" fill="none" stroke="#0a0a0a" stroke-width="2.6" transform="rotate(12 999 1188.3)"/>
<ellipse cx="1001.5" cy="1189.5" rx="12.6" ry="16.4" fill="none" stroke="#0a0a0a" stroke-width="2.2" transform="rotate(12 1001.5 1189.5)"/>
<path d="M1000,1168 C1004,1168 1010,1171 1014,1176" fill="none" stroke="#0a0a0a" stroke-width="1.6" stroke-linejoin="round" stroke-linecap="round" />
<path d="M1027.7,1219.3 C1020,1215 1017,1205 1018.8,1197 C1022,1185 1032,1176 1042.6,1175.4 L1067.9,1180.6" fill="none" stroke="#0a0a0a" stroke-width="2.4" stroke-linejoin="round" stroke-linecap="round" />
<path d="M1027.7,1219.3 L1061.9,1226.7" fill="none" stroke="#0a0a0a" stroke-width="2.4" stroke-linejoin="round" stroke-linecap="round" />
<ellipse cx="1064.9" cy="1204.4" rx="17.5" ry="21.6" fill="#fff" stroke="#0a0a0a" stroke-width="2.4" transform="rotate(12 1064.9 1204.4)"/>
<ellipse cx="1066.5" cy="1204" rx="14.2" ry="18.5" fill="none" stroke="#0a0a0a" stroke-width="2" transform="rotate(12 1066.5 1204)"/>
<path d="M1056.7,1226.7 L1056.7,1303 C1058,1309 1067,1309 1068.6,1303 L1069.3,1223.7" fill="none" stroke="#0a0a0a" stroke-width="2.4" stroke-linejoin="round" stroke-linecap="round" />
<path d="M1056.9,1303 C1059,1305 1066,1305 1068.5,1303" fill="none" stroke="#0a0a0a" stroke-width="1.6" stroke-linejoin="round" stroke-linecap="round" />
<path d="M1032.2,1233.4 h7.4 v7.4 h-7.4 Z" fill="none" stroke="#0a0a0a" stroke-width="2.6" stroke-linejoin="round" stroke-linecap="round" />
<ellipse cx="1035.5" cy="1252" rx="5.5" ry="3.8" fill="#0a0a0a" stroke="#0a0a0a" stroke-width="0"/>
<ellipse cx="1035" cy="1251" rx="2" ry="1.2" fill="#fff" stroke="#0a0a0a" stroke-width="0"/>
<ellipse cx="804.6" cy="1180.4" rx="10.5" ry="3" fill="none" stroke="#0a0a0a" stroke-width="3.4"/>
<path d="M792.5,1190 C795,1186 814,1186 816.5,1190 L816.5,1193.5 L818.2,1195 L818.2,1201.5 L816,1203 L816,1207 L817.5,1208 L817.5,1216.5 C815,1220.5 794,1220.5 792,1216.5 L792,1208 L793.5,1207 L793.5,1203 L791,1201.5 L791,1195 L792.5,1193.5 Z" fill="#0a0a0a" stroke="#0a0a0a" stroke-width="0" stroke-linejoin="round" stroke-linecap="round" />
<path d="M796,1202.5 L813.5,1202.5 L813.5,1208 L796,1208 Z" fill="#fff" stroke="#0a0a0a" stroke-width="0" stroke-linejoin="round" stroke-linecap="round" />
<path d="M797,1191 C801,1193 809,1193 813,1191" fill="none" stroke="#fff" stroke-width="0.8" stroke-linejoin="round" stroke-linecap="round" />
<path d="M794.5,1222 C798,1221 812,1221 815,1222.5 L815.5,1233.5 C811,1236 798,1236 793.5,1233.5 Z" fill="none" stroke="#0a0a0a" stroke-width="2.8" stroke-linejoin="round" stroke-linecap="round" />
<path d="M800,1226 h7.5 v7 h-7.5 Z" fill="none" stroke="#0a0a0a" stroke-width="2.4" stroke-linejoin="round" stroke-linecap="round" />
<path d="M811,1224 L811,1233" fill="none" stroke="#0a0a0a" stroke-width="2.4" stroke-linejoin="round" stroke-linecap="round" />
<ellipse cx="804.6" cy="1241" rx="11.8" ry="3.6" fill="none" stroke="#0a0a0a" stroke-width="2.6"/>
<ellipse cx="804.6" cy="1249" rx="11.2" ry="4.2" fill="#0a0a0a" stroke="#0a0a0a" stroke-width="3.6"/>
<ellipse cx="804.6" cy="1249" rx="6" ry="0.8" fill="#fff" stroke="#0a0a0a" stroke-width="0"/>
<ellipse cx="804.6" cy="1264.1" rx="14.5" ry="3.6" fill="none" stroke="#0a0a0a" stroke-width="3.6"/>
<circle cx="777.6" cy="1279.6" r="4" fill="#0a0a0a"/>
<ellipse cx="804.8" cy="1278.3" rx="15" ry="3.4" fill="none" stroke="#0a0a0a" stroke-width="3.6"/>
<path d="M789.1,1279 L788.1,1406 C788,1412 792,1420 799,1423.3 L872.5,1438.8" fill="none" stroke="#0a0a0a" stroke-width="2.4" stroke-linejoin="round" stroke-linecap="round" />
<path d="M818.5,1279 L817.1,1396.9 L889,1413" fill="none" stroke="#0a0a0a" stroke-width="2.4" stroke-linejoin="round" stroke-linecap="round" />
<path d="M790.7,1410.4 C795,1402 804,1394 813.5,1391.7 C815,1391.5 816.5,1393 817.1,1396.9" fill="none" stroke="#0a0a0a" stroke-width="2" stroke-linejoin="round" stroke-linecap="round" />
<path d="M792,1413 C797,1405 806,1399 817.1,1396.9" fill="none" stroke="#0a0a0a" stroke-width="1.6" stroke-linejoin="round" stroke-linecap="round" />
<path d="M873.5,1431 C873,1422 880,1414 889,1413 C898,1413 904,1420 904,1428 L904.5,1448 C898,1451 880,1451 873.5,1448 L873.5,1431" fill="none" stroke="#0a0a0a" stroke-width="2.4" stroke-linejoin="round" stroke-linecap="round" />
<path d="M874,1429.5 C882,1432 897,1432 904,1429" fill="none" stroke="#0a0a0a" stroke-width="2" stroke-linejoin="round" stroke-linecap="round" />
<path d="M873,1435 C871,1436 870.5,1438 872.5,1438.8" fill="none" stroke="#0a0a0a" stroke-width="2.6" stroke-linejoin="round" stroke-linecap="round" />
<path d="M876.5,1456 C878,1452 899,1452 900.5,1456 L902,1460 L902,1468 C898,1472 879,1472 875,1468 L875,1460 Z" fill="#0a0a0a" stroke="#0a0a0a" stroke-width="0" stroke-linejoin="round" stroke-linecap="round" />
<path d="M880,1458.5 C885,1459.5 893,1459.5 897,1458.5" fill="none" stroke="#fff" stroke-width="0.8" stroke-linejoin="round" stroke-linecap="round" />
<path d="M876,1474 L900,1474 L900.5,1489 C893,1492 883,1492 876,1489 Z" fill="none" stroke="#0a0a0a" stroke-width="2.4" stroke-linejoin="round" stroke-linecap="round" />
<path d="M876,1473 L880,1476 L884,1473 L888,1476 L892,1473 L896,1476 L900,1473" fill="none" stroke="#0a0a0a" stroke-width="2.6" stroke-linejoin="round" stroke-linecap="round" />
<ellipse cx="888.2" cy="1503" rx="16.5" ry="8.8" fill="#0a0a0a" stroke="#0a0a0a" stroke-width="0" transform="rotate(-6 888.2 1503)"/>
<path d="M882,1497 L888,1500 L894,1497" fill="none" stroke="#fff" stroke-width="1.4" stroke-linejoin="round" stroke-linecap="round" />
<path d="M886,1499 h5 v5 h-5 Z" fill="#fff" stroke="#0a0a0a" stroke-width="0" stroke-linejoin="round" stroke-linecap="round" />

<path d="M736.1,435.9 Q731.5,417.5 750.1,413.5 L1051.4,348.0 Q1070.0,344.0 1074.3,362.5 L1088.2,423.2 Q1092.5,441.7 1073.9,445.6 L773.9,508.9 Q755.3,512.8 750.7,494.4 Z" fill="none" stroke="#3a4749" stroke-width="1.8"/>
<rect x="917.5" y="468.6" width="47.3" height="30.6" rx="8" fill="none" stroke="#3a4749" stroke-width="1.8"/>
<path d="M653,867 H769 Q781,867 781,879 V919 Q781,931.5 769,931.5 H706 Q693.6,931.5 693.6,944 V986 Q693.6,998 681,998 H653 Q640.6,998 640.6,986 V879 Q640.6,867 653,867 Z" fill="none" stroke="#3a4749" stroke-width="1.8"/>
<rect x="931.5" y="916.3" width="45.5" height="91.7" rx="15" fill="none" stroke="#3a4749" stroke-width="1.8"/>
<rect x="786.6" y="974.5" width="43.5" height="134.5" rx="14" fill="none" stroke="#3a4749" stroke-width="1.8"/>
<path d="M493.1,1064.2 Q497.1,1045.6 515.4,1050.5 L626.2,1080.4 Q644.5,1085.3 640.3,1103.8 L627.4,1161.3 Q623.2,1179.8 604.8,1174.9 L495.0,1145.4 Q476.6,1140.5 480.6,1121.9 Z" fill="none" stroke="#3a4749" stroke-width="1.8"/>
<path d="M640.0,1114.4 Q644.4,1098.0 660.9,1102.1 L708.1,1113.9 Q724.6,1118.0 721.7,1134.7 L715.0,1173.1 Q712.1,1189.8 695.9,1184.7 L643.2,1168.0 Q627.0,1162.9 631.4,1146.5 Z" fill="none" stroke="#3a4749" stroke-width="1.8"/>
<rect x="980.5" y="1153.6" width="113.7" height="167.5" rx="12" fill="none" stroke="#3a4749" stroke-width="1.8"/>
<path d="M778,1178 H825 Q837,1178 837,1190 V1371 Q837,1383 849,1383 H906 Q918,1383 918,1395 V1515 Q918,1527 906,1527 H873 Q861,1527 861,1515 V1455 Q861,1443 849,1443 H778 Q766,1443 766,1431 V1190 Q766,1178 778,1178 Z" fill="none" stroke="#3a4749" stroke-width="1.8"/>
<polyline points="951.8,64.0 971.4,42.0 1005.0,42.0" fill="none" stroke="#2c3a3c" stroke-width="1.8"/>
<polyline points="479.6,342.3 450.5,391.7 406.8,391.7" fill="none" stroke="#2c3a3c" stroke-width="1.8"/>
<polyline points="1081.6,388.0 1101.0,365.7 1135.9,365.7" fill="none" stroke="#2c3a3c" stroke-width="1.8"/>
<polyline points="920.3,482.5 886.9,535.4 845.2,535.4" fill="none" stroke="#2c3a3c" stroke-width="1.8"/>
<polyline points="955.2,563.1 975.4,540.8 1010.2,540.8" fill="none" stroke="#2c3a3c" stroke-width="1.8"/>
<polyline points="623.2,602.6 642.6,580.3 677.5,580.3" fill="none" stroke="#2c3a3c" stroke-width="1.8"/>
<polyline points="439.1,679.2 460.2,657.1 494.3,657.1" fill="none" stroke="#2c3a3c" stroke-width="1.8"/>
<polyline points="631.6,734.7 651.7,711.9 687.8,711.9" fill="none" stroke="#2c3a3c" stroke-width="1.8"/>
<polyline points="641.3,920.2 617.4,960.6 578.6,960.6" fill="none" stroke="#2c3a3c" stroke-width="1.8"/>
<polyline points="870.5,921.7 890.6,900.0 915.5,900.0" fill="none" stroke="#2c3a3c" stroke-width="1.8"/>
<polyline points="977.6,969.9 997.7,946.6 1022.6,946.6" fill="none" stroke="#2c3a3c" stroke-width="1.8"/>
<polyline points="830.1,1049.0 848.7,1027.0 875.6,1027.0" fill="none" stroke="#2c3a3c" stroke-width="1.8"/>
<polyline points="550.7,1165.0 532.1,1209.6 509.3,1209.6" fill="none" stroke="#2c3a3c" stroke-width="1.8"/>
<polyline points="662.5,1179.4 645.9,1224.9 621.1,1224.9" fill="none" stroke="#2c3a3c" stroke-width="1.8"/>
<polyline points="917.0,1150.4 937.7,1109.0 958.4,1109.0" fill="none" stroke="#2c3a3c" stroke-width="1.8"/>
<polyline points="1041.2,1152.5 1057.7,1114.0 1082.6,1114.0" fill="none" stroke="#2c3a3c" stroke-width="1.8"/>
<polyline points="881.2,1382.2 898.0,1343.9 923.1,1343.9" fill="none" stroke="#2c3a3c" stroke-width="1.8"/>
<polyline points="900.4,1466.0 931.5,1497.0 956.6,1497.0" fill="none" stroke="#2c3a3c" stroke-width="1.8"/>
<g transform="translate(971.2,0.3)"><path d="M0.2,6.4 L7.0,0 H10 V29.7 H6.9 V4.3 L1.9,8.8 Z" fill="#050505"/></g>
<g transform="translate(986,0.3)"><path d="M13.4,0 H17.1 V19.65 H21.5 V22.75 H17.1 V29.7 H14 V22.75 H0 V19.9 Z M14,4.66 V19.65 H3.91 Z" fill="#050505" fill-rule="evenodd"/></g>
<g transform="translate(409.1,355.3)"><path d="M0.2,6.4 L7.0,0 H10 V29.7 H6.9 V4.3 L1.9,8.8 Z" fill="#050505"/></g>
<g transform="translate(426.1,355.3)"><path d="M17.5,1.5 H2.6 L1.6,15.2 C3.3,12.9 6.2,11.55 9.6,11.55 C14.2,11.55 17.15,15.1 17.15,19.9 C17.15,24.7 14,28.1 9.6,28.1 C5.8,28.1 2.9,26.2 1.4,23" fill="none" stroke="#050505" stroke-width="3.1"/></g>
<g transform="translate(1101,325.3)"><path d="M0.2,6.4 L7.0,0 H10 V29.7 H6.9 V4.3 L1.9,8.8 Z" fill="#050505"/></g>
<g transform="translate(1118.1,325.3)"><path d="M1.6,8.6 C1.9,4.3 5.1,1.55 9.5,1.55 C13.9,1.55 16.8,4.4 16.8,8.3 C16.8,12.4 13.7,15 9.5,15 H5.6 M9.5,15 C14.3,15 17.55,18.2 17.55,22 C17.55,26.4 13.9,28.15 9.5,28.15 C5.1,28.15 1.9,25.7 1.5,21.2" fill="none" stroke="#050505" stroke-width="3.1"/></g>
<g transform="translate(847.1,497.1)"><path d="M0.2,6.4 L7.0,0 H10 V29.7 H6.9 V4.3 L1.9,8.8 Z" fill="#050505"/></g>
<g transform="translate(862.9,497.1)"><path d="M1.6,9.5 C1.6,4.8 5,1.55 9.4,1.55 C13.9,1.55 17.2,4.6 17.2,8.9 C17.2,12 15.6,14.2 12.8,16.6 L1.8,26.8 M0,28.15 H18.8" fill="none" stroke="#050505" stroke-width="3.1"/></g>
<g transform="translate(975.1,500.2)"><path d="M0.2,6.4 L7.0,0 H10 V29.7 H6.9 V4.3 L1.9,8.8 Z" fill="#050505"/></g>
<g transform="translate(990.3,500.2)"><path d="M0.2,6.4 L7.0,0 H10 V29.7 H6.9 V4.3 L1.9,8.8 Z" fill="#050505"/></g>
<g transform="translate(643.2,539.1)"><path d="M0.2,6.4 L7.0,0 H10 V29.7 H6.9 V4.3 L1.9,8.8 Z" fill="#050505"/></g>
<g transform="translate(660.3,539.1)"><path d="M1.55,21 L1.55,15 C1.55,6.5 4.8,1.55 10,1.55 C12.9,1.55 15.2,3.1 16.6,5.9" fill="none" stroke="#050505" stroke-width="3.1"/><ellipse cx="9.4" cy="20" rx="7.85" ry="8.15" fill="none" stroke="#050505" stroke-width="3.1"/></g>
<g transform="translate(460.1,616)"><path d="M0.2,6.4 L7.0,0 H10 V29.7 H6.9 V4.3 L1.9,8.8 Z" fill="#050505"/></g>
<g transform="translate(478.1,616)"><ellipse cx="9.45" cy="8" rx="7.15" ry="6.45" fill="none" stroke="#050505" stroke-width="3.1"/><ellipse cx="9.45" cy="21.3" rx="7.9" ry="6.85" fill="none" stroke="#050505" stroke-width="3.1"/></g>
<g transform="translate(653.2,671)"><path d="M0.2,6.4 L7.0,0 H10 V29.7 H6.9 V4.3 L1.9,8.8 Z" fill="#050505"/></g>
<g transform="translate(668.3,671)"><path d="M0,1.55 H18.8 M17.5,2.5 L6.6,29.7" fill="none" stroke="#050505" stroke-width="3.1"/></g>
<g transform="translate(577.1,922.1)"><path d="M0.2,6.4 L7.0,0 H10 V29.7 H6.9 V4.3 L1.9,8.8 Z" fill="#050505"/></g>
<g transform="translate(595.1,922.1)"><ellipse cx="9.5" cy="14.85" rx="7.95" ry="13.3" fill="none" stroke="#050505" stroke-width="3.1"/></g>
<g transform="translate(896,864.9)"><ellipse cx="9.3" cy="9.85" rx="7.75" ry="8.3" fill="none" stroke="#050505" stroke-width="3.1"/><path d="M17.05,9 V19.5 C17.05,24.8 13.9,27.75 9.6,27.75 C6.4,27.75 3.7,26.2 2.2,23.8" fill="none" stroke="#050505" stroke-width="3.1"/></g>
<g transform="translate(1003,911)"><ellipse cx="9.45" cy="8" rx="7.15" ry="6.45" fill="none" stroke="#050505" stroke-width="3.1"/><ellipse cx="9.45" cy="21.3" rx="7.9" ry="6.85" fill="none" stroke="#050505" stroke-width="3.1"/></g>
<g transform="translate(853.7,993.8)"><path d="M0,1.55 H18.8 M17.5,2.5 L6.6,29.7" fill="none" stroke="#050505" stroke-width="3.1"/></g>
<g transform="translate(510.2,1171)"><path d="M1.55,21 L1.55,15 C1.55,6.5 4.8,1.55 10,1.55 C12.9,1.55 15.2,3.1 16.6,5.9" fill="none" stroke="#050505" stroke-width="3.1"/><ellipse cx="9.4" cy="20" rx="7.85" ry="8.15" fill="none" stroke="#050505" stroke-width="3.1"/></g>
<g transform="translate(622.2,1189.2)"><path d="M17.5,1.5 H2.6 L1.6,15.2 C3.3,12.9 6.2,11.55 9.6,11.55 C14.2,11.55 17.15,15.1 17.15,19.9 C17.15,24.7 14,28.1 9.6,28.1 C5.8,28.1 2.9,26.2 1.4,23" fill="none" stroke="#050505" stroke-width="3.1"/></g>
<g transform="translate(937,1075.2)"><path d="M13.4,0 H17.1 V19.65 H21.5 V22.75 H17.1 V29.7 H14 V22.75 H0 V19.9 Z M14,4.66 V19.65 H3.91 Z" fill="#050505" fill-rule="evenodd"/></g>
<g transform="translate(1061.9,1078)"><path d="M1.6,8.6 C1.9,4.3 5.1,1.55 9.5,1.55 C13.9,1.55 16.8,4.4 16.8,8.3 C16.8,12.4 13.7,15 9.5,15 H5.6 M9.5,15 C14.3,15 17.55,18.2 17.55,22 C17.55,26.4 13.9,28.15 9.5,28.15 C5.1,28.15 1.9,25.7 1.5,21.2" fill="none" stroke="#050505" stroke-width="3.1"/></g>
<g transform="translate(902,1307.9)"><path d="M1.6,9.5 C1.6,4.8 5,1.55 9.4,1.55 C13.9,1.55 17.2,4.6 17.2,8.9 C17.2,12 15.6,14.2 12.8,16.6 L1.8,26.8 M0,28.15 H18.8" fill="none" stroke="#050505" stroke-width="3.1"/></g>
<g transform="translate(938.1,1464.1)"><path d="M0.2,6.4 L7.0,0 H10 V29.7 H6.9 V4.3 L1.9,8.8 Z" fill="#050505"/></g>
<path d="M1,1566 H757 V1736" fill="none" stroke="#0d1218" stroke-width="2.2"/>
<line x1="0" y1="1736" x2="1545.5" y2="1736" stroke="#0d1218" stroke-width="2.4"/>
<line x1="0" y1="1782.5" x2="1545.5" y2="1782.5" stroke="#0d1218" stroke-width="2.4"/>
<line x1="0" y1="1836.5" x2="1545.5" y2="1836.5" stroke="#0d1218" stroke-width="2.4"/>
<line x1="0" y1="1882" x2="1545.5" y2="1882" stroke="#0d1218" stroke-width="2.4"/>
<line x1="0" y1="1928" x2="1545.5" y2="1928" stroke="#0d1218" stroke-width="2.4"/>
<line x1="0" y1="1974" x2="1545.5" y2="1974" stroke="#0d1218" stroke-width="2.4"/>
<line x1="0" y1="2020.3" x2="1545.5" y2="2020.3" stroke="#0d1218" stroke-width="2.4"/>
<line x1="0" y1="2069.2" x2="1545.5" y2="2069.2" stroke="#0d1218" stroke-width="2.4"/>
<line x1="0" y1="2120.7" x2="1545.5" y2="2120.7" stroke="#0d1218" stroke-width="2.4"/>
<line x1="0" y1="2170.8" x2="1545.5" y2="2170.8" stroke="#0d1218" stroke-width="2.4"/>
<line x1="0" y1="2223.2" x2="1545.5" y2="2223.2" stroke="#0d1218" stroke-width="2.4"/>
<line x1="1.1" y1="1565" x2="1.1" y2="2224.5" stroke="#0d1218" stroke-width="2.3"/>
<line x1="788.5" y1="1736" x2="788.5" y2="2224.5" stroke="#0d1218" stroke-width="2.5"/>
<line x1="1544.3" y1="1736" x2="1544.3" y2="2224.5" stroke="#0d1218" stroke-width="2.3"/>
<text x="66.0" y="1641.0" font-size="36" font-weight="normal" textLength="400.2" lengthAdjust="spacingAndGlyphs" fill="#0b0f14">AIGBC3Fi06 Смеситель</text>

<text x="66.0" y="1686.0" font-size="36" font-weight="normal" textLength="296.9" lengthAdjust="spacingAndGlyphs" fill="#0b0f14">с верхним душем</text>

<text x="75.5" y="1770.5" font-size="27" font-weight="bold" textLength="28.2" lengthAdjust="spacingAndGlyphs" fill="#0b0f14">№</text>

<text x="202.3" y="1770.5" font-size="27" font-weight="bold" textLength="202.1" lengthAdjust="spacingAndGlyphs" fill="#0b0f14">Запасные части</text>

<text x="570.7" y="1770.7" font-size="27" font-weight="bold" textLength="103.5" lengthAdjust="spacingAndGlyphs" fill="#0b0f14">Артикул</text>

<text x="825.2" y="1770.5" font-size="27" font-weight="bold" textLength="28.2" lengthAdjust="spacingAndGlyphs" fill="#0b0f14">№</text>

<text x="952.0" y="1770.5" font-size="27" font-weight="bold" textLength="202.1" lengthAdjust="spacingAndGlyphs" fill="#0b0f14">Запасные части</text>

<text x="1324.3" y="1770.7" font-size="27" font-weight="bold" textLength="102.7" lengthAdjust="spacingAndGlyphs" fill="#0b0f14">Артикул</text>

<g transform="translate(72.00,1797.01) scale(0.673)"><path d="M0.2,6.4 L7.0,0 H10 V29.7 H6.9 V4.3 L1.9,8.8 Z" fill="#050505"/></g>

<text x="158.6" y="1817.0" font-size="27" font-weight="normal" textLength="101.9" lengthAdjust="spacingAndGlyphs" fill="#0b0f14">Аэратор</text>

<text x="569.1" y="1817.0" font-size="27" font-weight="normal" textLength="166.6" lengthAdjust="spacingAndGlyphs" fill="#0b0f14">996S22B3SM</text>

<g transform="translate(72.60,1848.61) scale(0.673)"><path d="M1.6,9.5 C1.6,4.8 5,1.55 9.4,1.55 C13.9,1.55 17.2,4.6 17.2,8.9 C17.2,12 15.6,14.2 12.8,16.6 L1.8,26.8 M0,28.15 H18.8" fill="none" stroke="#050505" stroke-width="3.1"/></g>

<text x="158.6" y="1868.6" font-size="27" font-weight="normal" textLength="76.0" lengthAdjust="spacingAndGlyphs" fill="#0b0f14">Излив</text>

<text x="569.1" y="1868.6" font-size="27" font-weight="normal" textLength="197.3" lengthAdjust="spacingAndGlyphs" fill="#0b0f14">995VD17BC6SM</text>

<g transform="translate(72.60,1897.51) scale(0.673)"><path d="M1.6,8.6 C1.9,4.3 5.1,1.55 9.5,1.55 C13.9,1.55 16.8,4.4 16.8,8.3 C16.8,12.4 13.7,15 9.5,15 H5.6 M9.5,15 C14.3,15 17.55,18.2 17.55,22 C17.55,26.4 13.9,28.15 9.5,28.15 C5.1,28.15 1.9,25.7 1.5,21.2" fill="none" stroke="#050505" stroke-width="3.1"/></g>

<text x="158.6" y="1917.5" font-size="27" font-weight="normal" textLength="211.9" lengthAdjust="spacingAndGlyphs" fill="#0b0f14">Ручка смесителя</text>

<text x="569.1" y="1917.5" font-size="27" font-weight="normal" textLength="191.6" lengthAdjust="spacingAndGlyphs" fill="#0b0f14">994AIGBC01SM</text>

<g transform="translate(72.60,1944.51) scale(0.673)"><path d="M13.4,0 H17.1 V19.65 H21.5 V22.75 H17.1 V29.7 H14 V22.75 H0 V19.9 Z M14,4.66 V19.65 H3.91 Z" fill="#050505" fill-rule="evenodd"/></g>

<text x="158.6" y="1964.5" font-size="27" font-weight="normal" textLength="124.6" lengthAdjust="spacingAndGlyphs" fill="#0b0f14">Картридж</text>

<text x="569.1" y="1964.5" font-size="27" font-weight="normal" textLength="171.4" lengthAdjust="spacingAndGlyphs" fill="#0b0f14">999C35D0SM</text>

<g transform="translate(72.60,1988.01) scale(0.673)"><path d="M17.5,1.5 H2.6 L1.6,15.2 C3.3,12.9 6.2,11.55 9.6,11.55 C14.2,11.55 17.15,15.1 17.15,19.9 C17.15,24.7 14,28.1 9.6,28.1 C5.8,28.1 2.9,26.2 1.4,23" fill="none" stroke="#050505" stroke-width="3.1"/></g>

<text x="158.6" y="2008.0" font-size="27" font-weight="normal" textLength="198.9" lengthAdjust="spacingAndGlyphs" fill="#0b0f14">Гайка накидная,</text>

<text x="569.1" y="2008.0" font-size="27" font-weight="normal" textLength="181.1" lengthAdjust="spacingAndGlyphs" fill="#0b0f14">983IDBC03SM</text>

<g transform="translate(72.60,2034.81) scale(0.673)"><path d="M1.55,21 L1.55,15 C1.55,6.5 4.8,1.55 10,1.55 C12.9,1.55 15.2,3.1 16.6,5.9" fill="none" stroke="#050505" stroke-width="3.1"/><ellipse cx="9.4" cy="20" rx="7.85" ry="8.15" fill="none" stroke="#050505" stroke-width="3.1"/></g>

<text x="158.6" y="2054.8" font-size="27" font-weight="normal" textLength="155.3" lengthAdjust="spacingAndGlyphs" fill="#0b0f14">Отражатель,</text>

<text x="569.1" y="2054.8" font-size="27" font-weight="normal" textLength="181.1" lengthAdjust="spacingAndGlyphs" fill="#0b0f14">982SSRBC1SM</text>

<g transform="translate(72.60,2084.51) scale(0.673)"><path d="M0,1.55 H18.8 M17.5,2.5 L6.6,29.7" fill="none" stroke="#050505" stroke-width="3.1"/></g>

<text x="158.6" y="2104.5" font-size="27" font-weight="normal" textLength="302.4" lengthAdjust="spacingAndGlyphs" fill="#0b0f14">Соединительная трубка</text>

<text x="569.1" y="2104.5" font-size="27" font-weight="normal" textLength="162.5" lengthAdjust="spacingAndGlyphs" fill="#0b0f14">953AIG00SM</text>

<g transform="translate(72.60,2131.81) scale(0.673)"><ellipse cx="9.45" cy="8" rx="7.15" ry="6.45" fill="none" stroke="#050505" stroke-width="3.1"/><ellipse cx="9.45" cy="21.3" rx="7.9" ry="6.85" fill="none" stroke="#050505" stroke-width="3.1"/></g>

<text x="158.6" y="2151.8" font-size="27" font-weight="normal" textLength="211.2" lengthAdjust="spacingAndGlyphs" fill="#0b0f14">Ручка дивертора</text>

<text x="569.1" y="2151.8" font-size="27" font-weight="normal" textLength="167.4" lengthAdjust="spacingAndGlyphs" fill="#0b0f14">971IDBC76SM</text>

<g transform="translate(72.60,2181.51) scale(0.673)"><ellipse cx="9.3" cy="9.85" rx="7.75" ry="8.3" fill="none" stroke="#050505" stroke-width="3.1"/><path d="M17.05,9 V19.5 C17.05,24.8 13.9,27.75 9.6,27.75 C6.4,27.75 3.7,26.2 2.2,23.8" fill="none" stroke="#050505" stroke-width="3.1"/></g>

<text x="158.6" y="2201.5" font-size="27" font-weight="normal" textLength="119.7" lengthAdjust="spacingAndGlyphs" fill="#0b0f14">Дивертор</text>

<text x="569.1" y="2201.5" font-size="27" font-weight="normal" textLength="160.1" lengthAdjust="spacingAndGlyphs" fill="#0b0f14">997PC142SM</text>

<text x="366.6" y="2008.0" font-size="20" font-weight="normal" textLength="180.1" lengthAdjust="spacingAndGlyphs" fill="#0b0f14">штуцер в комплекте</text>

<text x="323.6" y="2054.8" font-size="20" font-weight="normal" textLength="214.4" lengthAdjust="spacingAndGlyphs" fill="#0b0f14">эксцентрик в комплекте</text>

<g transform="translate(825.30,1796.51) scale(0.673)"><path d="M0.2,6.4 L7.0,0 H10 V29.7 H6.9 V4.3 L1.9,8.8 Z" fill="#050505"/></g><g transform="translate(836.03,1796.51) scale(0.673)"><ellipse cx="9.5" cy="14.85" rx="7.95" ry="13.3" fill="none" stroke="#050505" stroke-width="3.1"/></g>

<text x="911.6" y="1816.5" font-size="27" font-weight="normal" textLength="195.0" lengthAdjust="spacingAndGlyphs" fill="#0b0f14">Штуцер шланга</text>

<text x="1321.0" y="1817.7" font-size="27" font-weight="normal" textLength="175.5" lengthAdjust="spacingAndGlyphs" fill="#0b0f14">979IDBC24SM</text>

<g transform="translate(825.30,1848.01) scale(0.673)"><path d="M0.2,6.4 L7.0,0 H10 V29.7 H6.9 V4.3 L1.9,8.8 Z" fill="#050505"/></g><g transform="translate(834.23,1848.01) scale(0.673)"><path d="M0.2,6.4 L7.0,0 H10 V29.7 H6.9 V4.3 L1.9,8.8 Z" fill="#050505"/></g>

<text x="911.6" y="1868.0" font-size="27" font-weight="normal" textLength="86.3" lengthAdjust="spacingAndGlyphs" fill="#0b0f14">Стойка</text>

<text x="1321.0" y="1866.2" font-size="27" font-weight="normal" textLength="166.6" lengthAdjust="spacingAndGlyphs" fill="#0b0f14">951IDBC18SM</text>

<g transform="translate(825.30,1897.11) scale(0.673)"><path d="M0.2,6.4 L7.0,0 H10 V29.7 H6.9 V4.3 L1.9,8.8 Z" fill="#050505"/></g><g transform="translate(836.03,1897.11) scale(0.673)"><path d="M1.6,9.5 C1.6,4.8 5,1.55 9.4,1.55 C13.9,1.55 17.2,4.6 17.2,8.9 C17.2,12 15.6,14.2 12.8,16.6 L1.8,26.8 M0,28.15 H18.8" fill="none" stroke="#050505" stroke-width="3.1"/></g>

<text x="911.6" y="1917.1" font-size="27" font-weight="normal" textLength="304.0" lengthAdjust="spacingAndGlyphs" fill="#0b0f14">Комплект уплотнителей</text>

<text x="1325.9" y="1910.6" font-size="27" font-weight="normal" textLength="160.1" lengthAdjust="spacingAndGlyphs" fill="#0b0f14">986AIG02SM</text>

<g transform="translate(825.30,1942.41) scale(0.673)"><path d="M0.2,6.4 L7.0,0 H10 V29.7 H6.9 V4.3 L1.9,8.8 Z" fill="#050505"/></g><g transform="translate(836.03,1942.41) scale(0.673)"><path d="M1.6,8.6 C1.9,4.3 5.1,1.55 9.5,1.55 C13.9,1.55 16.8,4.4 16.8,8.3 C16.8,12.4 13.7,15 9.5,15 H5.6 M9.5,15 C14.3,15 17.55,18.2 17.55,22 C17.55,26.4 13.9,28.15 9.5,28.15 C5.1,28.15 1.9,25.7 1.5,21.2" fill="none" stroke="#050505" stroke-width="3.1"/></g>

<text x="911.6" y="1962.4" font-size="27" font-weight="normal" textLength="259.7" lengthAdjust="spacingAndGlyphs" fill="#0b0f14">Соединитель стойки</text>

<text x="1325.9" y="1961.6" font-size="27" font-weight="normal" textLength="169.0" lengthAdjust="spacingAndGlyphs" fill="#0b0f14">952IDBC14SM</text>

<g transform="translate(825.30,1987.71) scale(0.673)"><path d="M0.2,6.4 L7.0,0 H10 V29.7 H6.9 V4.3 L1.9,8.8 Z" fill="#050505"/></g><g transform="translate(836.03,1987.71) scale(0.673)"><path d="M13.4,0 H17.1 V19.65 H21.5 V22.75 H17.1 V29.7 H14 V22.75 H0 V19.9 Z M14,4.66 V19.65 H3.91 Z" fill="#050505" fill-rule="evenodd"/></g>

<text x="911.6" y="2007.7" font-size="27" font-weight="normal" textLength="164.9" lengthAdjust="spacingAndGlyphs" fill="#0b0f14">Верхняя дуга</text>

<text x="1325.4" y="2005.9" font-size="27" font-weight="normal" textLength="169.5" lengthAdjust="spacingAndGlyphs" fill="#0b0f14">942IDBC15SM</text>

<g transform="translate(825.30,2033.61) scale(0.673)"><path d="M0.2,6.4 L7.0,0 H10 V29.7 H6.9 V4.3 L1.9,8.8 Z" fill="#050505"/></g><g transform="translate(836.03,2033.61) scale(0.673)"><path d="M17.5,1.5 H2.6 L1.6,15.2 C3.3,12.9 6.2,11.55 9.6,11.55 C14.2,11.55 17.15,15.1 17.15,19.9 C17.15,24.7 14,28.1 9.6,28.1 C5.8,28.1 2.9,26.2 1.4,23" fill="none" stroke="#050505" stroke-width="3.1"/></g>

<text x="911.6" y="2053.6" font-size="27" font-weight="normal" textLength="184.3" lengthAdjust="spacingAndGlyphs" fill="#0b0f14">Верхняя лейка</text>

<text x="1325.4" y="2052.8" font-size="27" font-weight="normal" textLength="191.3" lengthAdjust="spacingAndGlyphs" fill="#0b0f14">978IDBC220SM</text>

<g transform="translate(825.30,2084.71) scale(0.673)"><path d="M0.2,6.4 L7.0,0 H10 V29.7 H6.9 V4.3 L1.9,8.8 Z" fill="#050505"/></g><g transform="translate(836.03,2084.71) scale(0.673)"><path d="M1.55,21 L1.55,15 C1.55,6.5 4.8,1.55 10,1.55 C12.9,1.55 15.2,3.1 16.6,5.9" fill="none" stroke="#050505" stroke-width="3.1"/><ellipse cx="9.4" cy="20" rx="7.85" ry="8.15" fill="none" stroke="#050505" stroke-width="3.1"/></g>

<text x="911.6" y="2104.7" font-size="27" font-weight="normal" textLength="190.8" lengthAdjust="spacingAndGlyphs" fill="#0b0f14">Лейка душевая</text>

<text x="1325.4" y="2104.5" font-size="27" font-weight="normal" textLength="184.1" lengthAdjust="spacingAndGlyphs" fill="#0b0f14">978IDBC142SM</text>

<g transform="translate(825.30,2135.51) scale(0.673)"><path d="M0.2,6.4 L7.0,0 H10 V29.7 H6.9 V4.3 L1.9,8.8 Z" fill="#050505"/></g><g transform="translate(836.03,2135.51) scale(0.673)"><path d="M0,1.55 H18.8 M17.5,2.5 L6.6,29.7" fill="none" stroke="#050505" stroke-width="3.1"/></g>

<text x="911.6" y="2155.5" font-size="27" font-weight="normal" textLength="218.9" lengthAdjust="spacingAndGlyphs" fill="#0b0f14">Держатель лейки</text>

<text x="1325.4" y="2155.6" font-size="27" font-weight="normal" textLength="171.9" lengthAdjust="spacingAndGlyphs" fill="#0b0f14">977IDBC44SM</text>

<g transform="translate(825.30,2185.61) scale(0.673)"><path d="M0.2,6.4 L7.0,0 H10 V29.7 H6.9 V4.3 L1.9,8.8 Z" fill="#050505"/></g><g transform="translate(836.03,2185.61) scale(0.673)"><ellipse cx="9.45" cy="8" rx="7.15" ry="6.45" fill="none" stroke="#050505" stroke-width="3.1"/><ellipse cx="9.45" cy="21.3" rx="7.9" ry="6.85" fill="none" stroke="#050505" stroke-width="3.1"/></g>

<text x="911.6" y="2205.6" font-size="27" font-weight="normal" textLength="203.7" lengthAdjust="spacingAndGlyphs" fill="#0b0f14">Шланг для душа</text>

<text x="1325.4" y="2205.3" font-size="27" font-weight="normal" textLength="176.0" lengthAdjust="spacingAndGlyphs" fill="#0b0f14">976IDBC04SM</text>

</svg>
</body></html>
